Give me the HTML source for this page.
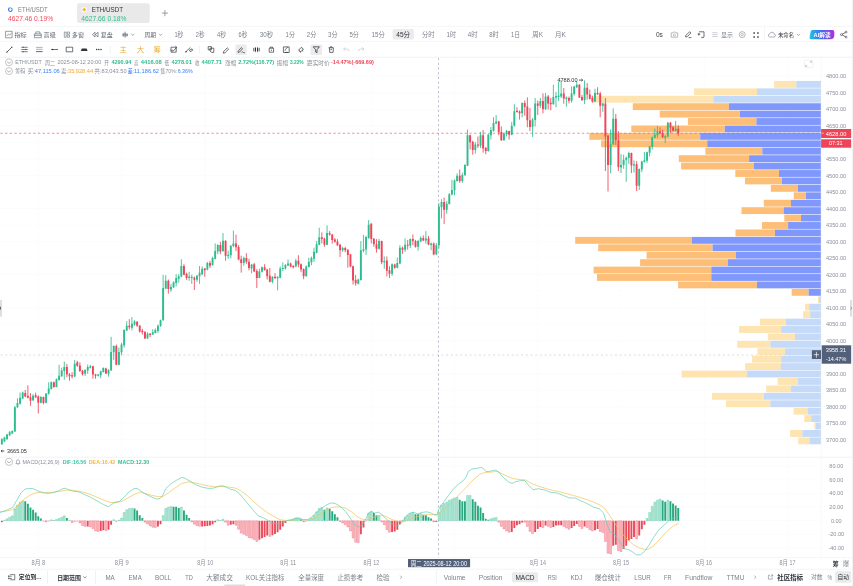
<!DOCTYPE html>
<html><head><meta charset="utf-8"><title>ETH/USDT</title>
<style>html,body{margin:0;padding:0;background:#fff;overflow:hidden}svg{display:block;filter:blur(0.4px)}text{font-family:"Liberation Sans","Noto Sans CJK SC",sans-serif;white-space:pre}</style></head>
<body>
<svg width="853" height="586" viewBox="0 0 853 586">
<defs><linearGradient id="aig" x1="0" x2="1" y1="0" y2="0"><stop offset="0" stop-color="#22c3e6"/><stop offset="0.45" stop-color="#3a6ff2"/><stop offset="1" stop-color="#b02fe0"/></linearGradient></defs>
<line x1="0" y1="439.73" x2="821.2" y2="439.73" stroke="#f6f8fb" stroke-width="0.5"/>
<line x1="0" y1="423.22" x2="821.2" y2="423.22" stroke="#f6f8fb" stroke-width="0.5"/>
<line x1="0" y1="406.7" x2="821.2" y2="406.7" stroke="#f6f8fb" stroke-width="0.5"/>
<line x1="0" y1="390.18" x2="821.2" y2="390.18" stroke="#f6f8fb" stroke-width="0.5"/>
<line x1="0" y1="373.67" x2="821.2" y2="373.67" stroke="#f6f8fb" stroke-width="0.5"/>
<line x1="0" y1="357.15" x2="821.2" y2="357.15" stroke="#f6f8fb" stroke-width="0.5"/>
<line x1="0" y1="340.64" x2="821.2" y2="340.64" stroke="#f6f8fb" stroke-width="0.5"/>
<line x1="0" y1="324.12" x2="821.2" y2="324.12" stroke="#f6f8fb" stroke-width="0.5"/>
<line x1="0" y1="307.61" x2="821.2" y2="307.61" stroke="#f6f8fb" stroke-width="0.5"/>
<line x1="0" y1="291.1" x2="821.2" y2="291.1" stroke="#f6f8fb" stroke-width="0.5"/>
<line x1="0" y1="274.58" x2="821.2" y2="274.58" stroke="#f6f8fb" stroke-width="0.5"/>
<line x1="0" y1="258.06" x2="821.2" y2="258.06" stroke="#f6f8fb" stroke-width="0.5"/>
<line x1="0" y1="241.55" x2="821.2" y2="241.55" stroke="#f6f8fb" stroke-width="0.5"/>
<line x1="0" y1="225.03" x2="821.2" y2="225.03" stroke="#f6f8fb" stroke-width="0.5"/>
<line x1="0" y1="208.52" x2="821.2" y2="208.52" stroke="#f6f8fb" stroke-width="0.5"/>
<line x1="0" y1="192" x2="821.2" y2="192" stroke="#f6f8fb" stroke-width="0.5"/>
<line x1="0" y1="175.49" x2="821.2" y2="175.49" stroke="#f6f8fb" stroke-width="0.5"/>
<line x1="0" y1="158.97" x2="821.2" y2="158.97" stroke="#f6f8fb" stroke-width="0.5"/>
<line x1="0" y1="142.46" x2="821.2" y2="142.46" stroke="#f6f8fb" stroke-width="0.5"/>
<line x1="0" y1="125.94" x2="821.2" y2="125.94" stroke="#f6f8fb" stroke-width="0.5"/>
<line x1="0" y1="109.43" x2="821.2" y2="109.43" stroke="#f6f8fb" stroke-width="0.5"/>
<line x1="0" y1="92.92" x2="821.2" y2="92.92" stroke="#f6f8fb" stroke-width="0.5"/>
<line x1="0" y1="76.4" x2="821.2" y2="76.4" stroke="#f6f8fb" stroke-width="0.5"/>
<line x1="0" y1="466.16" x2="821.2" y2="466.16" stroke="#f6f8fb" stroke-width="0.5"/>
<line x1="0" y1="479.77" x2="821.2" y2="479.77" stroke="#f6f8fb" stroke-width="0.5"/>
<line x1="0" y1="493.38" x2="821.2" y2="493.38" stroke="#f6f8fb" stroke-width="0.5"/>
<line x1="0" y1="506.99" x2="821.2" y2="506.99" stroke="#f6f8fb" stroke-width="0.5"/>
<line x1="0" y1="520.6" x2="821.2" y2="520.6" stroke="#f6f8fb" stroke-width="0.5"/>
<line x1="0" y1="534.21" x2="821.2" y2="534.21" stroke="#f6f8fb" stroke-width="0.5"/>
<line x1="0" y1="547.82" x2="821.2" y2="547.82" stroke="#f6f8fb" stroke-width="0.5"/>
<line x1="38.4" y1="57.2" x2="38.4" y2="557.9" stroke="#f6f8fb" stroke-width="0.5"/>
<line x1="121.6" y1="57.2" x2="121.6" y2="557.9" stroke="#f6f8fb" stroke-width="0.5"/>
<line x1="204.9" y1="57.2" x2="204.9" y2="557.9" stroke="#f6f8fb" stroke-width="0.5"/>
<line x1="288.1" y1="57.2" x2="288.1" y2="557.9" stroke="#f6f8fb" stroke-width="0.5"/>
<line x1="371.3" y1="57.2" x2="371.3" y2="557.9" stroke="#f6f8fb" stroke-width="0.5"/>
<line x1="454.6" y1="57.2" x2="454.6" y2="557.9" stroke="#f6f8fb" stroke-width="0.5"/>
<line x1="537.8" y1="57.2" x2="537.8" y2="557.9" stroke="#f6f8fb" stroke-width="0.5"/>
<line x1="621" y1="57.2" x2="621" y2="557.9" stroke="#f6f8fb" stroke-width="0.5"/>
<line x1="704.2" y1="57.2" x2="704.2" y2="557.9" stroke="#f6f8fb" stroke-width="0.5"/>
<line x1="787.5" y1="57.2" x2="787.5" y2="557.9" stroke="#f6f8fb" stroke-width="0.5"/>
<rect x="774.1" y="80.95" width="22.2" height="6.86" fill="#fde4b0"/>
<rect x="796.3" y="80.95" width="24.7" height="6.86" fill="#c4daf8"/>
<rect x="694" y="88.38" width="63" height="6.86" fill="#fde4b0"/>
<rect x="757" y="88.38" width="64" height="6.86" fill="#c4daf8"/>
<rect x="591.7" y="95.8" width="121.7" height="6.86" fill="#fde4b0"/>
<rect x="713.4" y="95.8" width="107.6" height="6.86" fill="#c4daf8"/>
<rect x="632.8" y="103.23" width="96.1" height="6.86" fill="#fdbf78"/>
<rect x="728.9" y="103.23" width="92.1" height="6.86" fill="#8098fc"/>
<rect x="659.7" y="110.66" width="80.3" height="6.86" fill="#fdbf78"/>
<rect x="740" y="110.66" width="81" height="6.86" fill="#8098fc"/>
<rect x="687.9" y="118.09" width="68.5" height="6.86" fill="#fdbf78"/>
<rect x="756.4" y="118.09" width="64.6" height="6.86" fill="#8098fc"/>
<rect x="631.3" y="125.51" width="93.5" height="6.86" fill="#fdbf78"/>
<rect x="724.8" y="125.51" width="96.2" height="6.86" fill="#8098fc"/>
<rect x="589.4" y="132.94" width="110.8" height="6.86" fill="#fdbf78"/>
<rect x="700.2" y="132.94" width="120.8" height="6.86" fill="#8098fc"/>
<rect x="601.1" y="140.37" width="106.1" height="6.86" fill="#fdbf78"/>
<rect x="707.2" y="140.37" width="113.8" height="6.86" fill="#8098fc"/>
<rect x="705.4" y="147.79" width="56.9" height="6.86" fill="#fdbf78"/>
<rect x="762.3" y="147.79" width="58.7" height="6.86" fill="#8098fc"/>
<rect x="678.8" y="155.22" width="70.3" height="6.86" fill="#fdbf78"/>
<rect x="749.1" y="155.22" width="71.9" height="6.86" fill="#8098fc"/>
<rect x="681.1" y="162.65" width="72.7" height="6.86" fill="#fdbf78"/>
<rect x="753.8" y="162.65" width="67.2" height="6.86" fill="#8098fc"/>
<rect x="735.3" y="170.07" width="43.7" height="6.86" fill="#fdbf78"/>
<rect x="779" y="170.07" width="42" height="6.86" fill="#8098fc"/>
<rect x="745" y="177.5" width="36.9" height="6.86" fill="#fdbf78"/>
<rect x="781.9" y="177.5" width="39.1" height="6.86" fill="#8098fc"/>
<rect x="770.8" y="184.93" width="27" height="6.86" fill="#fdbf78"/>
<rect x="797.8" y="184.93" width="23.2" height="6.86" fill="#8098fc"/>
<rect x="793.7" y="192.36" width="12.3" height="6.86" fill="#fdbf78"/>
<rect x="806" y="192.36" width="15" height="6.86" fill="#8098fc"/>
<rect x="763.8" y="199.78" width="27.2" height="6.86" fill="#fdbf78"/>
<rect x="791" y="199.78" width="30" height="6.86" fill="#8098fc"/>
<rect x="741.5" y="207.21" width="42.2" height="6.86" fill="#fdbf78"/>
<rect x="783.7" y="207.21" width="37.3" height="6.86" fill="#8098fc"/>
<rect x="784.3" y="214.64" width="16.7" height="6.86" fill="#fdbf78"/>
<rect x="801" y="214.64" width="20" height="6.86" fill="#8098fc"/>
<rect x="762" y="222.06" width="26.1" height="6.86" fill="#fdbf78"/>
<rect x="788.1" y="222.06" width="32.9" height="6.86" fill="#8098fc"/>
<rect x="735.5" y="229.49" width="39.4" height="6.86" fill="#fdbf78"/>
<rect x="774.9" y="229.49" width="46.1" height="6.86" fill="#8098fc"/>
<rect x="575.2" y="236.92" width="116.8" height="6.86" fill="#fdbf78"/>
<rect x="692" y="236.92" width="129" height="6.86" fill="#8098fc"/>
<rect x="598.2" y="244.34" width="114.3" height="6.86" fill="#fdbf78"/>
<rect x="712.5" y="244.34" width="108.5" height="6.86" fill="#8098fc"/>
<rect x="646.6" y="251.77" width="89.2" height="6.86" fill="#fdbf78"/>
<rect x="735.8" y="251.77" width="85.2" height="6.86" fill="#8098fc"/>
<rect x="640.1" y="259.2" width="87.7" height="6.86" fill="#fdbf78"/>
<rect x="727.8" y="259.2" width="93.2" height="6.86" fill="#8098fc"/>
<rect x="593.6" y="266.62" width="117.7" height="6.86" fill="#fdbf78"/>
<rect x="711.3" y="266.62" width="109.7" height="6.86" fill="#8098fc"/>
<rect x="597" y="274.05" width="114.3" height="6.86" fill="#fdbf78"/>
<rect x="711.3" y="274.05" width="109.7" height="6.86" fill="#8098fc"/>
<rect x="678.1" y="281.48" width="78.8" height="6.86" fill="#fdbf78"/>
<rect x="756.9" y="281.48" width="64.1" height="6.86" fill="#8098fc"/>
<rect x="791.7" y="288.91" width="16.9" height="6.86" fill="#fdbf78"/>
<rect x="808.6" y="288.91" width="12.4" height="6.86" fill="#8098fc"/>
<rect x="818.1" y="296.33" width="1" height="6.86" fill="#fde4b0"/>
<rect x="819.1" y="296.33" width="1.9" height="6.86" fill="#c4daf8"/>
<rect x="805.1" y="303.76" width="4.1" height="6.86" fill="#fde4b0"/>
<rect x="809.2" y="303.76" width="11.8" height="6.86" fill="#c4daf8"/>
<rect x="803.1" y="311.19" width="7.1" height="6.86" fill="#fde4b0"/>
<rect x="810.2" y="311.19" width="10.8" height="6.86" fill="#c4daf8"/>
<rect x="759.9" y="318.61" width="25.8" height="6.86" fill="#fde4b0"/>
<rect x="785.7" y="318.61" width="35.3" height="6.86" fill="#c4daf8"/>
<rect x="739" y="326.04" width="42.2" height="6.86" fill="#fde4b0"/>
<rect x="781.2" y="326.04" width="39.8" height="6.86" fill="#c4daf8"/>
<rect x="767.8" y="333.47" width="27.2" height="6.86" fill="#fde4b0"/>
<rect x="795" y="333.47" width="26" height="6.86" fill="#c4daf8"/>
<rect x="737.2" y="340.89" width="33.2" height="6.86" fill="#fde4b0"/>
<rect x="770.4" y="340.89" width="50.6" height="6.86" fill="#c4daf8"/>
<rect x="757.5" y="348.32" width="27.6" height="6.86" fill="#fde4b0"/>
<rect x="785.1" y="348.32" width="35.9" height="6.86" fill="#c4daf8"/>
<rect x="752" y="355.75" width="29.2" height="6.86" fill="#fde4b0"/>
<rect x="781.2" y="355.75" width="39.8" height="6.86" fill="#c4daf8"/>
<rect x="745.1" y="363.18" width="35.7" height="6.86" fill="#fde4b0"/>
<rect x="780.8" y="363.18" width="40.2" height="6.86" fill="#c4daf8"/>
<rect x="681.6" y="370.6" width="65.3" height="6.86" fill="#fde4b0"/>
<rect x="746.9" y="370.6" width="74.1" height="6.86" fill="#c4daf8"/>
<rect x="777.7" y="378.03" width="20.3" height="6.86" fill="#fde4b0"/>
<rect x="798" y="378.03" width="23" height="6.86" fill="#c4daf8"/>
<rect x="766.2" y="385.46" width="24.5" height="6.86" fill="#fde4b0"/>
<rect x="790.7" y="385.46" width="30.3" height="6.86" fill="#c4daf8"/>
<rect x="712" y="392.88" width="51.6" height="6.86" fill="#fde4b0"/>
<rect x="763.6" y="392.88" width="57.4" height="6.86" fill="#c4daf8"/>
<rect x="726" y="400.31" width="44.4" height="6.86" fill="#fde4b0"/>
<rect x="770.4" y="400.31" width="50.6" height="6.86" fill="#c4daf8"/>
<rect x="793.6" y="407.74" width="14" height="6.86" fill="#fde4b0"/>
<rect x="807.6" y="407.74" width="13.4" height="6.86" fill="#c4daf8"/>
<rect x="804.3" y="415.16" width="6.9" height="6.86" fill="#fde4b0"/>
<rect x="811.2" y="415.16" width="9.8" height="6.86" fill="#c4daf8"/>
<rect x="814.3" y="422.59" width="1.6" height="6.86" fill="#fde4b0"/>
<rect x="815.9" y="422.59" width="5.1" height="6.86" fill="#c4daf8"/>
<rect x="790.1" y="430.02" width="12.2" height="6.86" fill="#fde4b0"/>
<rect x="802.3" y="430.02" width="18.7" height="6.86" fill="#c4daf8"/>
<rect x="798.2" y="437.45" width="11.2" height="6.86" fill="#fde4b0"/>
<rect x="809.4" y="437.45" width="11.6" height="6.86" fill="#c4daf8"/>
<line x1="0.37" y1="133.25" x2="821.2" y2="133.25" stroke="#ee5e70" stroke-width="0.7" stroke-dasharray="2.35 2.34"/>
<line x1="0.55" y1="355" x2="821.2" y2="355" stroke="#d9dbe4" stroke-width="1" stroke-dasharray="2 2.69"/>
<line x1="438.5" y1="58" x2="438.5" y2="557.9" stroke="#9499b0" stroke-width="0.6" stroke-dasharray="2.25 2.46"/>
<path d="M1.85 438.06V444.82M4.45 436.83V442.21M7.05 433.76V439.59M9.65 430.99V436.06M12.26 430.37V434.06M14.86 406.1V431.91M17.46 398.41V407.94M20.06 392.58V404.56M22.66 391.5V399.18M33.07 394.11V401.18M40.87 396.11V403.33M46.08 393.04V403.33M48.68 382.28V394.57M51.28 381.51V389.5M56.48 378.44V387.35M59.08 364.92V380.74M61.68 367.68V376.9M64.29 361.54V379.67M74.69 360V377.21M85.1 369.22V376.13M87.7 364.61V373.83M90.3 364.92V368.45M98.11 373.83V376.59M100.71 370.76V378.13M103.31 367.38V372.6M108.51 369.22V376.59M111.11 336.85V370.96M113.71 345.3V359.9M118.92 347.61V365.28M121.52 342.69V355.29M124.12 329.17V347.61M126.72 321.18V331.01M131.93 317.19V330.4M134.53 320.26V325.79M147.53 332.24V338.85M152.74 329.17V335.01M155.34 328.4V333.47M157.94 324.56V333.01M160.54 319.64V326.87M163.14 274.95V320.74M165.74 275.26V289.09M170.95 283.86V291.85M173.55 281.4V288.01M176.15 274.18V286.48M178.75 274.18V282.63M181.35 259.28V277.26M189.16 271.88V280.79M191.76 274.64V283.86M196.96 274.95V281.87M199.56 266.04V283.86M202.17 266.48V275.23M207.37 261.87V270.32M212.57 256.79V265.71M215.17 243.43V259.56M217.77 244.19V254.18M222.98 233.13V251.88M228.18 250.65V258.79M230.78 244.96V258.33M233.38 230.67V247.27M243.79 256.49V265.71M251.59 263.86V273.39M259.4 268.78V278.31M262 266.48V272.62M272.41 276.16V283.38M277.61 276.46V290.29M280.21 266.48V278.31M282.81 262.33V271.08M285.41 264.17V269.55M288.02 259.56V266.01M295.82 258.79V267.24M306.23 265.4V276.46M308.83 257.72V267.55M311.43 256.48V265.23M314.03 247.72V261.85M316.63 241.11V253.4M319.23 227.74V245.26M327.04 225.28V245.26M342.65 246.79V251.87M358.26 278.76V284.59M360.86 241.11V280.6M363.46 234.96V252.33M366.06 235.73V254.94M368.66 220.06V238.8M379.07 238.8V249.56M384.27 256.48V268.77M392.08 263.39V275.99M397.28 257.55V268.31M399.88 245.26V264.16M405.08 238.5V251.87M410.29 238.5V248.02M418.09 239.91V250.67M420.69 236.38V242.22M425.89 231.16V243.76M431.1 242.53V250.21M436.3 242.99V255.28M438.9 203.04V248.67M441.5 199.19V218.4M446.71 201.04V213.79M449.31 193.05V204.57M451.91 179.99V195.35M454.51 179.53V195.35M457.11 173.37V181.82M462.32 172.6V182.89M464.92 164.15V175.67M467.52 129.57V165.99M475.32 141.87V153.7M480.53 131.88V148.01M488.33 133.72V151.55M490.93 126.96V139.56M493.53 117.28V131.57M496.14 114.98V124.19M503.94 132.65V140.79M506.54 130.03V136.49M511.74 121.89V135.26M514.35 104.22V126.5M522.15 102.38V117.28M532.56 118.01V136.91M535.16 98.04V126.46M540.36 98.04V108.02M545.56 92.97V109.87M553.37 84.67V104.64M555.97 91.89V107.26M558.57 81.59V101.11M561.17 80.67V98.04M566.38 96.5V106.79M571.58 86.51V102.65M574.18 85.74V95.73M576.78 81.59V88.05M584.59 80.37V104.18M594.99 88.82V102.19M602.8 102.65V111.87M610.6 129.6V173.39M613.2 108.39V144.96M621.01 154.18V173.08M623.61 154.64V168.78M626.21 156.49V181.84M628.81 151.57V163.86M634.01 160.33V172.62M639.22 168.47V189.98M641.82 160.79V172.16M644.42 151.88V162.63M647.02 151.57V162.94M649.62 145.73V156.49M652.23 136.51V149.57M654.83 128.52V138.36M657.43 126.06V137.74M665.23 135.28V142.97M667.83 121.91V137.28M675.64 120.84V131.59" fill="none" stroke="#2ebd8f" stroke-width="0.85"/>
<path d="M25.26 389.96V397.19M27.87 385.35V398.41M30.47 393.04V405.79M35.67 392.58V398.11M38.27 395.34V413.47M43.47 396.57V404.25M53.88 381.51V387.66M66.89 363.84V377.21M69.49 373.06V380.74M72.09 372.29V378.44M77.29 360.77V366.91M79.89 362.3V371.99M82.5 369.99V375.67M92.9 365.84V378.75M95.5 373.83V378.75M105.91 367.68V374.14M116.32 344.54V365.28M129.32 319.18V329.48M137.13 321.18V326.87M139.73 324.87V332.55M142.33 328.86V334.55M144.93 331.01V338.85M150.14 333.01V337.16M168.35 279.56V293.7M183.96 264.19V275.26M186.56 272.65V279.87M194.36 276.49V290.01M204.77 268.01V276.77M209.97 260.79V268.01M220.38 241.89V254.18M225.58 240.35V260.79M235.99 234.67V251.11M238.59 244.96V260.33M241.19 255.72V272.62M246.39 253.11V263.86M248.99 258.79V270.32M254.2 262.94V272.16M256.8 269.09V287.99M264.6 264.17V270.62M267.2 268.78V279.54M269.8 268.01V282.3M275.01 273.08V278.77M290.62 262.63V267.24M293.22 264.94V268.47M298.42 255.26V267.24M301.02 263.4V272.16M303.62 268.47V279.23M321.83 232.35V243.41M324.44 237.58V246.79M329.64 231.12V235.73M332.24 233.89V243.72M334.84 238.04V242.65M337.44 239.11V246.18M340.05 243.72V256.94M345.25 246.79V252.33M347.85 249.25V267.69M350.45 253.86V267.23M353.05 265.69V284.59M355.65 274.91V285.67M371.26 223.13V243.41M373.86 238.04V246.79M376.47 239.11V252.63M381.67 240.65V264.16M386.87 256.48V276.45M389.47 266.16V277.99M394.68 263.7V268.77M402.48 246.49V253.86M407.68 240.03V249.56M412.89 234.5V245.26M415.49 239.91V247.6M423.29 235.3V240.99M428.5 236.07V245.29M433.7 242.53V255.28M444.11 197.66V224.09M459.71 169.52V182.89M470.12 134.64V149.55M472.72 140.79V154.62M477.92 136.49V148.01M483.13 130.03V152.62M485.73 146.94V154.16M498.74 120.81V135.26M501.34 126.5V140.79M509.14 130.65V139.56M516.95 107.29V112.67M519.55 110.37V119.59M524.75 100.38V115.74M527.35 97.3V127.27M529.95 108.06V131.11M537.76 100.65V114.94M542.96 93.43V113.4M548.17 94.96V109.56M550.77 98.04V110.33M563.77 88.05V103.72M568.98 96.5V103.41M579.38 84.21V98.04M581.98 94.96V101.11M587.19 83.13V99.57M589.79 89.59V99.57M592.39 95.73V102.65M597.59 87.28V94.96M600.2 91.89V117.24M605.4 98.1V171.08M608 134.98V191.52M615.8 113.92V144.96M618.41 131.13V171.08M631.41 152.65V173.08M636.62 161.1V191.06M660.03 127.29V134.21M662.63 129.6V138.05M670.44 121.91V133.13M673.04 126.06V131.59M678.24 125.45V135.74" fill="none" stroke="#ee4458" stroke-width="0.85"/>
<path d="M0.9 439.13h1.9v5.07h-1.9zM3.5 437.6h1.9v3.84h-1.9zM6.1 434.52h1.9v4.61h-1.9zM8.7 432.22h1.9v3.07h-1.9zM11.31 430.99h1.9v2.46h-1.9zM13.91 407.17h1.9v24.28h-1.9zM16.51 403.02h1.9v4.3h-1.9zM19.11 397.65h1.9v6.15h-1.9zM21.71 392.58h1.9v5.84h-1.9zM32.12 395.65h1.9v4.61h-1.9zM39.92 396.88h1.9v5.84h-1.9zM45.13 393.5h1.9v9.22h-1.9zM47.73 388.43h1.9v5.38h-1.9zM50.33 382.28h1.9v6.61h-1.9zM55.53 379.21h1.9v7.68h-1.9zM58.13 375.67h1.9v4.3h-1.9zM60.73 370.45h1.9v5.69h-1.9zM63.34 366.91h1.9v4.15h-1.9zM73.74 363.84h1.9v12.75h-1.9zM84.15 369.99h1.9v3.84h-1.9zM86.75 366.91h1.9v3.53h-1.9zM89.35 366.15h1.9v1.54h-1.9zM97.16 374.6h1.9v1.08h-1.9zM99.76 371.52h1.9v3.84h-1.9zM102.36 367.99h1.9v4h-1.9zM107.56 369.99h1.9v3.84h-1.9zM110.16 351.91h1.9v18.44h-1.9zM112.76 346.07h1.9v6.15h-1.9zM117.97 351.91h1.9v12.91h-1.9zM120.57 344.54h1.9v7.68h-1.9zM123.17 329.94h1.9v15.37h-1.9zM125.77 325.79h1.9v4.61h-1.9zM130.98 323.79h1.9v3.84h-1.9zM133.58 321.49h1.9v3.07h-1.9zM146.58 333.78h1.9v4.61h-1.9zM151.79 332.24h1.9v2.3h-1.9zM154.39 329.94h1.9v3.07h-1.9zM156.99 325.79h1.9v5.22h-1.9zM159.59 320.26h1.9v5.84h-1.9zM162.19 288.01h1.9v32.27h-1.9zM164.79 280.79h1.9v7.68h-1.9zM170 286.94h1.9v2.61h-1.9zM172.6 282.33h1.9v4.92h-1.9zM175.2 278.02h1.9v4.92h-1.9zM177.8 276.18h1.9v2.61h-1.9zM180.4 266.04h1.9v10.45h-1.9zM188.21 276.49h1.9v1.54h-1.9zM190.81 276.79h1.9v1.23h-1.9zM196.01 275.72h1.9v4.15h-1.9zM198.61 272.65h1.9v3.53h-1.9zM201.22 268.78h1.9v5.38h-1.9zM206.42 262.94h1.9v6.61h-1.9zM211.62 258.02h1.9v6.91h-1.9zM214.22 251.11h1.9v7.68h-1.9zM216.82 244.96h1.9v6.61h-1.9zM222.03 240.81h1.9v10.3h-1.9zM227.23 254.64h1.9v1.54h-1.9zM229.83 245.73h1.9v9.53h-1.9zM232.43 243.43h1.9v2.61h-1.9zM242.84 258.02h1.9v4.92h-1.9zM250.64 264.48h1.9v4h-1.9zM258.45 271.55h1.9v6.45h-1.9zM261.05 267.24h1.9v4.61h-1.9zM271.46 276.77h1.9v5.07h-1.9zM276.66 276.77h1.9v1.54h-1.9zM279.26 268.47h1.9v9.22h-1.9zM281.86 268.01h1.9v1.08h-1.9zM284.46 264.94h1.9v3.53h-1.9zM287.07 263.4h1.9v2h-1.9zM294.87 260.79h1.9v5.69h-1.9zM305.28 266.48h1.9v9.68h-1.9zM307.88 261.87h1.9v5.07h-1.9zM310.48 258.01h1.9v4.15h-1.9zM313.08 251.87h1.9v6.91h-1.9zM315.68 244.18h1.9v8.45h-1.9zM318.28 237.27h1.9v7.38h-1.9zM326.09 232.97h1.9v11.68h-1.9zM341.7 248.02h1.9v2.3h-1.9zM357.31 279.52h1.9v4.15h-1.9zM359.91 250.33h1.9v29.66h-1.9zM362.51 249.25h1.9v1.54h-1.9zM365.11 236.96h1.9v12.6h-1.9zM367.71 224.67h1.9v13.37h-1.9zM378.12 241.11h1.9v7.68h-1.9zM383.32 261.08h1.9v1.08h-1.9zM391.13 264.16h1.9v9.68h-1.9zM396.33 263.08h1.9v4.61h-1.9zM398.93 247.72h1.9v15.67h-1.9zM404.13 244.64h1.9v5.22h-1.9zM409.34 239.11h1.9v6.61h-1.9zM417.14 240.99h1.9v5.84h-1.9zM419.74 237.92h1.9v3.53h-1.9zM424.94 238.38h1.9v2h-1.9zM430.15 243.45h1.9v1.54h-1.9zM435.35 245.29h1.9v8.91h-1.9zM437.95 206.57h1.9v38.72h-1.9zM440.55 201.96h1.9v4.92h-1.9zM445.76 203.8h1.9v5.84h-1.9zM448.36 194.28h1.9v9.83h-1.9zM450.96 189.98h1.9v4.61h-1.9zM453.56 180.45h1.9v9.83h-1.9zM456.16 175.67h1.9v5.38h-1.9zM461.37 174.9h1.9v6.15h-1.9zM463.97 164.91h1.9v10.3h-1.9zM466.57 135.26h1.9v30.42h-1.9zM474.37 144.48h1.9v5.53h-1.9zM479.58 135.26h1.9v10.45h-1.9zM487.38 134.64h1.9v16.44h-1.9zM489.98 130.03h1.9v5.22h-1.9zM492.58 122.97h1.9v7.68h-1.9zM495.19 121.43h1.9v2h-1.9zM502.99 133.41h1.9v6.91h-1.9zM505.59 131.11h1.9v3.07h-1.9zM510.79 125.73h1.9v8.91h-1.9zM513.4 111.13h1.9v14.6h-1.9zM521.2 102.99h1.9v10.14h-1.9zM531.61 119.55h1.9v7.22h-1.9zM534.21 103.41h1.9v16.59h-1.9zM539.41 101.11h1.9v4.61h-1.9zM544.61 96.5h1.9v12.75h-1.9zM552.42 96.96h1.9v7.22h-1.9zM555.02 96.04h1.9v1.54h-1.9zM557.62 95.73h1.9v1.23h-1.9zM560.22 93.43h1.9v3.07h-1.9zM565.43 97.58h1.9v1.54h-1.9zM570.63 93.43h1.9v7.22h-1.9zM573.23 86.51h1.9v7.38h-1.9zM575.83 84.67h1.9v2.61h-1.9zM583.64 87.74h1.9v12.29h-1.9zM594.04 92.97h1.9v8.6h-1.9zM601.85 103.41h1.9v2.3h-1.9zM609.65 144.19h1.9v20.74h-1.9zM612.25 118.84h1.9v25.35h-1.9zM620.06 164.94h1.9v2.61h-1.9zM622.66 159.87h1.9v5.07h-1.9zM625.26 157.72h1.9v2.15h-1.9zM627.86 153.11h1.9v4.92h-1.9zM633.06 164.17h1.9v1.23h-1.9zM638.27 169.09h1.9v16.59h-1.9zM640.87 161.4h1.9v8.14h-1.9zM643.47 160.33h1.9v1.54h-1.9zM646.07 152.19h1.9v8.6h-1.9zM648.67 146.5h1.9v6.15h-1.9zM651.27 137.28h1.9v9.68h-1.9zM653.88 134.67h1.9v3.07h-1.9zM656.48 131.59h1.9v3.69h-1.9zM664.28 136.2h1.9v1.54h-1.9zM666.88 122.68h1.9v13.83h-1.9zM674.69 128.83h1.9v1.84h-1.9z" fill="#2ebd8f"/>
<path d="M24.31 393.04h1.9v3.53h-1.9zM26.92 395.65h1.9v2h-1.9zM29.52 397.19h1.9v3.53h-1.9zM34.72 395.34h1.9v1.84h-1.9zM37.32 396.57h1.9v6.15h-1.9zM42.52 396.88h1.9v6.15h-1.9zM52.93 382.28h1.9v4.61h-1.9zM65.94 366.91h1.9v7.68h-1.9zM68.54 374.6h1.9v1.54h-1.9zM71.14 375.37h1.9v1.23h-1.9zM76.34 362.3h1.9v3.53h-1.9zM78.94 365.38h1.9v5.69h-1.9zM81.55 370.76h1.9v3.38h-1.9zM91.95 366.15h1.9v8.45h-1.9zM94.55 374.6h1.9v1.08h-1.9zM104.96 368.45h1.9v5.07h-1.9zM115.37 346.07h1.9v18.75h-1.9zM128.37 325.79h1.9v1.54h-1.9zM136.18 321.79h1.9v4h-1.9zM138.78 325.79h1.9v5.69h-1.9zM141.38 330.71h1.9v1.54h-1.9zM143.98 331.94h1.9v6.45h-1.9zM149.19 333.78h1.9v1.23h-1.9zM167.4 280.79h1.9v8.3h-1.9zM183.01 266.04h1.9v8.6h-1.9zM185.61 273.72h1.9v4.3h-1.9zM193.41 277.72h1.9v2.15h-1.9zM203.82 268.47h1.9v1.84h-1.9zM209.02 262.94h1.9v2.77h-1.9zM219.43 244.96h1.9v6.61h-1.9zM224.63 240.81h1.9v14.9h-1.9zM235.04 243.43h1.9v3.84h-1.9zM237.64 246.96h1.9v12.6h-1.9zM240.24 259.25h1.9v3.69h-1.9zM245.44 258.02h1.9v3.84h-1.9zM248.04 261.87h1.9v6.15h-1.9zM253.25 264.17h1.9v7.38h-1.9zM255.85 271.08h1.9v6.91h-1.9zM263.65 267.24h1.9v2.77h-1.9zM266.25 269.55h1.9v6.61h-1.9zM268.85 275.69h1.9v6.15h-1.9zM274.06 276.77h1.9v1.54h-1.9zM289.67 263.4h1.9v3.07h-1.9zM292.27 266.01h1.9v1.23h-1.9zM297.47 260.79h1.9v3.69h-1.9zM300.07 264.17h1.9v5.38h-1.9zM302.67 269.09h1.9v7.07h-1.9zM320.88 237.27h1.9v1.84h-1.9zM323.49 238.8h1.9v5.84h-1.9zM328.69 232.97h1.9v1.54h-1.9zM331.29 234.5h1.9v5.53h-1.9zM333.89 239.57h1.9v2.3h-1.9zM336.49 241.57h1.9v3.69h-1.9zM339.1 244.64h1.9v5.69h-1.9zM344.3 248.02h1.9v2.3h-1.9zM346.9 249.87h1.9v5.07h-1.9zM349.5 254.48h1.9v11.99h-1.9zM352.1 266.16h1.9v14.44h-1.9zM354.7 279.98h1.9v3.38h-1.9zM370.31 223.75h1.9v15.37h-1.9zM372.91 238.8h1.9v5.38h-1.9zM375.52 244.18h1.9v4.61h-1.9zM380.72 241.11h1.9v21.05h-1.9zM385.92 260.62h1.9v10.14h-1.9zM388.52 270.3h1.9v3.53h-1.9zM393.73 264.62h1.9v3.07h-1.9zM401.53 247.72h1.9v2.15h-1.9zM406.73 244.64h1.9v1.08h-1.9zM411.94 239.11h1.9v2h-1.9zM414.54 240.99h1.9v5.84h-1.9zM422.34 237.92h1.9v2.46h-1.9zM427.55 238.38h1.9v6.15h-1.9zM432.75 243.45h1.9v11.06h-1.9zM443.16 201.96h1.9v7.68h-1.9zM458.76 175.67h1.9v5.38h-1.9zM469.17 135.26h1.9v7.07h-1.9zM471.77 141.87h1.9v8.14h-1.9zM476.97 144.48h1.9v1.23h-1.9zM482.18 135.26h1.9v13.21h-1.9zM484.78 148.01h1.9v3.07h-1.9zM497.79 121.43h1.9v10.76h-1.9zM500.39 131.88h1.9v8.45h-1.9zM508.19 131.11h1.9v3.53h-1.9zM516 110.67h1.9v1.23h-1.9zM518.6 111.59h1.9v1.54h-1.9zM523.8 102.99h1.9v4h-1.9zM526.4 106.52h1.9v13.83h-1.9zM529 120.35h1.9v6.61h-1.9zM536.81 103.41h1.9v2.3h-1.9zM542.01 101.11h1.9v8.14h-1.9zM547.22 96.5h1.9v6.91h-1.9zM549.82 102.65h1.9v1.54h-1.9zM562.82 93.43h1.9v5.07h-1.9zM568.03 98.04h1.9v2.61h-1.9zM578.43 84.67h1.9v12.91h-1.9zM581.03 96.96h1.9v3.07h-1.9zM586.24 87.74h1.9v6.76h-1.9zM588.84 94.5h1.9v4.3h-1.9zM591.44 98.04h1.9v3.53h-1.9zM596.64 92.97h1.9v1.23h-1.9zM599.25 93.43h1.9v12.29h-1.9zM604.45 103.48h1.9v33.04h-1.9zM607.05 135.74h1.9v29.19h-1.9zM614.85 118.84h1.9v21.51h-1.9zM617.46 140.35h1.9v26.89h-1.9zM630.46 153.11h1.9v12.29h-1.9zM635.67 164.17h1.9v21.51h-1.9zM659.08 131.59h1.9v1.54h-1.9zM661.68 133.13h1.9v4.15h-1.9zM669.49 122.68h1.9v4.92h-1.9zM672.09 127.29h1.9v3.38h-1.9zM677.29 128.83h1.9v4.61h-1.9z" fill="#ee4458"/>
<path d="M3.5 520.15h1.9v0.6h-1.9zM6.1 518.87h1.9v1.88h-1.9zM8.7 517.19h1.9v3.56h-1.9zM11.31 515.86h1.9v4.89h-1.9zM13.91 508.83h1.9v11.92h-1.9zM16.51 505.15h1.9v15.6h-1.9zM19.11 502.14h1.9v18.61h-1.9zM21.71 500.8h1.9v19.95h-1.9zM50.33 519.87h1.9v0.88h-1.9zM55.53 519.53h1.9v1.22h-1.9zM58.13 518.53h1.9v2.22h-1.9zM60.73 517.19h1.9v3.56h-1.9zM63.34 515.86h1.9v4.89h-1.9zM112.76 519.7h1.9v1.05h-1.9zM117.97 520.15h1.9v0.6h-1.9zM120.57 518.03h1.9v2.72h-1.9zM123.17 512.51h1.9v8.24h-1.9zM125.77 509.67h1.9v11.08h-1.9zM128.37 508.5h1.9v12.25h-1.9zM130.98 508.16h1.9v12.59h-1.9zM162.19 515.52h1.9v5.23h-1.9zM164.79 508.5h1.9v12.25h-1.9zM167.4 507.16h1.9v13.59h-1.9zM170 506.49h1.9v14.26h-1.9zM180.4 507.16h1.9v13.59h-1.9zM216.82 519.7h1.9v1.05h-1.9zM222.03 519.2h1.9v1.55h-1.9zM289.67 520.15h1.9v0.6h-1.9zM292.27 519.2h1.9v1.55h-1.9zM294.87 518.03h1.9v2.72h-1.9zM297.47 518.03h1.9v2.72h-1.9zM307.88 520.15h1.9v0.6h-1.9zM310.48 518.03h1.9v2.72h-1.9zM313.08 515.52h1.9v5.23h-1.9zM315.68 511.84h1.9v8.91h-1.9zM318.28 508.5h1.9v12.25h-1.9zM320.88 507.49h1.9v13.26h-1.9zM326.09 507.99h1.9v12.76h-1.9zM367.71 513.01h1.9v7.74h-1.9zM370.31 511.84h1.9v8.91h-1.9zM378.12 515.86h1.9v4.89h-1.9zM401.53 520.15h1.9v0.6h-1.9zM404.13 517.19h1.9v3.56h-1.9zM406.73 515.19h1.9v5.56h-1.9zM409.34 513.51h1.9v7.24h-1.9zM411.94 512.51h1.9v8.24h-1.9zM419.74 513.51h1.9v7.24h-1.9zM437.95 512.18h1.9v8.57h-1.9zM440.55 505.15h1.9v15.6h-1.9zM443.16 503.48h1.9v17.27h-1.9zM445.76 502.14h1.9v18.61h-1.9zM448.36 500.13h1.9v20.62h-1.9zM450.96 499.13h1.9v21.62h-1.9zM453.56 497.96h1.9v22.79h-1.9zM456.16 497.46h1.9v23.29h-1.9zM466.57 495.45h1.9v25.3h-1.9zM469.17 495.45h1.9v25.3h-1.9zM489.98 518.87h1.9v1.88h-1.9zM492.58 518.03h1.9v2.72h-1.9zM495.19 517.53h1.9v3.22h-1.9zM646.07 518.53h1.9v2.22h-1.9zM648.67 512.51h1.9v8.24h-1.9zM651.27 506.32h1.9v14.43h-1.9zM653.88 502.14h1.9v18.61h-1.9zM656.48 500.13h1.9v20.62h-1.9zM659.08 499.13h1.9v21.62h-1.9zM666.88 500.13h1.9v20.62h-1.9z" fill="#b7e6d6" stroke="#2ebd8f" stroke-width="0.31"/>
<path d="M24.31 501.3h1.9v19.45h-1.9zM26.92 503.81h1.9v16.94h-1.9zM29.52 507.49h1.9v13.26h-1.9zM32.12 509.67h1.9v11.08h-1.9zM34.72 512.51h1.9v8.24h-1.9zM37.32 516.36h1.9v4.39h-1.9zM39.92 518.53h1.9v2.22h-1.9zM52.93 520.15h1.9v0.6h-1.9zM65.94 518.03h1.9v2.72h-1.9zM68.54 520.15h1.9v0.6h-1.9zM133.58 508.5h1.9v12.25h-1.9zM136.18 510.5h1.9v10.25h-1.9zM138.78 515.19h1.9v5.56h-1.9zM141.38 518.03h1.9v2.72h-1.9zM172.6 506.82h1.9v13.93h-1.9zM175.2 506.82h1.9v13.93h-1.9zM177.8 507.99h1.9v12.76h-1.9zM183.01 510.5h1.9v10.25h-1.9zM185.61 514.68h1.9v6.07h-1.9zM188.21 518.03h1.9v2.72h-1.9zM219.43 520.15h1.9v0.6h-1.9zM287.07 520.15h1.9v0.6h-1.9zM300.07 519.2h1.9v1.55h-1.9zM323.49 509.67h1.9v11.08h-1.9zM328.69 508.83h1.9v11.92h-1.9zM331.29 511.34h1.9v9.41h-1.9zM333.89 514.18h1.9v6.57h-1.9zM336.49 517.19h1.9v3.56h-1.9zM372.91 513.01h1.9v7.74h-1.9zM375.52 515.19h1.9v5.56h-1.9zM414.54 514.18h1.9v6.57h-1.9zM417.14 514.18h1.9v6.57h-1.9zM422.34 514.68h1.9v6.07h-1.9zM424.94 515.19h1.9v5.56h-1.9zM427.55 517.19h1.9v3.56h-1.9zM430.15 518.53h1.9v2.22h-1.9zM458.76 499.63h1.9v21.12h-1.9zM461.37 501.3h1.9v19.45h-1.9zM463.97 501.3h1.9v19.45h-1.9zM471.77 499.13h1.9v21.62h-1.9zM474.37 501.81h1.9v18.94h-1.9zM476.97 505.82h1.9v14.93h-1.9zM479.58 507.49h1.9v13.26h-1.9zM482.18 513.01h1.9v7.74h-1.9zM484.78 518.87h1.9v1.88h-1.9zM487.38 519.7h1.9v1.05h-1.9zM661.68 500.47h1.9v20.28h-1.9zM664.28 501.81h1.9v18.94h-1.9zM669.49 501.3h1.9v19.45h-1.9zM672.09 503.48h1.9v17.27h-1.9zM674.69 505.49h1.9v15.26h-1.9zM677.29 507.99h1.9v12.76h-1.9z" fill="#27a87e"/>
<path d="M45.13 520.75h1.9v1.13h-1.9zM71.14 520.75h1.9v1.8h-1.9zM78.94 520.75h1.9v2.3h-1.9zM81.55 520.75h1.9v4.81h-1.9zM84.15 520.75h1.9v5.64h-1.9zM89.35 520.75h1.9v6.14h-1.9zM91.95 520.75h1.9v7.82h-1.9zM94.55 520.75h1.9v10.16h-1.9zM97.16 520.75h1.9v10.66h-1.9zM104.96 520.75h1.9v9.82h-1.9zM143.98 520.75h1.9v1.46h-1.9zM146.58 520.75h1.9v3.13h-1.9zM149.19 520.75h1.9v5.14h-1.9zM151.79 520.75h1.9v6.48h-1.9zM154.39 520.75h1.9v6.81h-1.9zM190.81 520.75h1.9v1.13h-1.9zM193.41 520.75h1.9v3.47h-1.9zM196.01 520.75h1.9v4.81h-1.9zM198.61 520.75h1.9v5.47h-1.9zM224.63 520.75h1.9v1.46h-1.9zM227.23 520.75h1.9v4.47h-1.9zM235.04 520.75h1.9v4.47h-1.9zM237.64 520.75h1.9v8.49h-1.9zM240.24 520.75h1.9v12.33h-1.9zM242.84 520.75h1.9v13.5h-1.9zM245.44 520.75h1.9v14.84h-1.9zM248.04 520.75h1.9v16.85h-1.9zM250.64 520.75h1.9v17.52h-1.9zM253.25 520.75h1.9v18.85h-1.9zM255.85 520.75h1.9v20.69h-1.9zM268.85 520.75h1.9v15.68h-1.9zM302.67 520.75h1.9v1.13h-1.9zM339.1 520.75h1.9v0.79h-1.9zM341.7 520.75h1.9v2.3h-1.9zM344.3 520.75h1.9v3.97h-1.9zM346.9 520.75h1.9v6.14h-1.9zM349.5 520.75h1.9v10.16h-1.9zM352.1 520.75h1.9v17.35h-1.9zM354.7 520.75h1.9v21.53h-1.9zM357.31 520.75h1.9v21.87h-1.9zM380.72 520.75h1.9v1.13h-1.9zM383.32 520.75h1.9v3.97h-1.9zM385.92 520.75h1.9v8.99h-1.9zM388.52 520.75h1.9v11.5h-1.9zM432.75 520.75h1.9v1.13h-1.9zM497.79 520.75h1.9v1.46h-1.9zM500.39 520.75h1.9v5.64h-1.9zM502.99 520.75h1.9v8.15h-1.9zM505.59 520.75h1.9v10.16h-1.9zM508.19 520.75h1.9v11.5h-1.9zM523.8 520.75h1.9v1.46h-1.9zM526.4 520.75h1.9v5.64h-1.9zM529 520.75h1.9v10.66h-1.9zM531.61 520.75h1.9v12.83h-1.9zM542.01 520.75h1.9v6.81h-1.9zM547.22 520.75h1.9v5.64h-1.9zM549.82 520.75h1.9v6.81h-1.9zM562.82 520.75h1.9v5.64h-1.9zM565.43 520.75h1.9v7.31h-1.9zM568.03 520.75h1.9v8.49h-1.9zM578.43 520.75h1.9v5.64h-1.9zM581.03 520.75h1.9v7.82h-1.9zM586.24 520.75h1.9v6.81h-1.9zM588.84 520.75h1.9v8.99h-1.9zM591.44 520.75h1.9v10.16h-1.9zM599.25 520.75h1.9v10.66h-1.9zM601.85 520.75h1.9v11.83h-1.9zM604.45 520.75h1.9v20.69h-1.9zM607.05 520.75h1.9v32.4h-1.9zM609.65 520.75h1.9v33.24h-1.9zM617.46 520.75h1.9v29.89h-1.9zM620.06 520.75h1.9v30.73h-1.9zM635.67 520.75h1.9v18.19h-1.9z" fill="#f9c0c6" stroke="#ee4458" stroke-width="0.31"/>
<path d="M0.9 520.75h1.9v1.46h-1.9zM42.52 520.75h1.9v0.62h-1.9zM47.73 520.75h1.9v0.6h-1.9zM73.74 520.75h1.9v0.79h-1.9zM76.34 520.75h1.9v0.62h-1.9zM86.75 520.75h1.9v5.64h-1.9zM99.76 520.75h1.9v10.16h-1.9zM102.36 520.75h1.9v9.49h-1.9zM107.56 520.75h1.9v8.99h-1.9zM110.16 520.75h1.9v3.97h-1.9zM115.37 520.75h1.9v0.79h-1.9zM156.99 520.75h1.9v5.64h-1.9zM159.59 520.75h1.9v3.47h-1.9zM201.22 520.75h1.9v5.81h-1.9zM203.82 520.75h1.9v5.47h-1.9zM206.42 520.75h1.9v5.14h-1.9zM209.02 520.75h1.9v4.81h-1.9zM211.62 520.75h1.9v3.47h-1.9zM214.22 520.75h1.9v1.46h-1.9zM229.83 520.75h1.9v3.97h-1.9zM232.43 520.75h1.9v3.47h-1.9zM258.45 520.75h1.9v19.02h-1.9zM261.05 520.75h1.9v17.52h-1.9zM263.65 520.75h1.9v16.18h-1.9zM266.25 520.75h1.9v14.84h-1.9zM271.46 520.75h1.9v14.51h-1.9zM274.06 520.75h1.9v13.17h-1.9zM276.66 520.75h1.9v11.5h-1.9zM279.26 520.75h1.9v8.99h-1.9zM281.86 520.75h1.9v5.64h-1.9zM284.46 520.75h1.9v2.3h-1.9zM305.28 520.75h1.9v0.62h-1.9zM359.91 520.75h1.9v13.5h-1.9zM362.51 520.75h1.9v6.81h-1.9zM365.11 520.75h1.9v0.6h-1.9zM391.13 520.75h1.9v11.16h-1.9zM393.73 520.75h1.9v10.66h-1.9zM396.33 520.75h1.9v8.99h-1.9zM398.93 520.75h1.9v3.47h-1.9zM435.35 520.75h1.9v1.13h-1.9zM510.79 520.75h1.9v11.16h-1.9zM513.4 520.75h1.9v7.31h-1.9zM516 520.75h1.9v4.47h-1.9zM518.6 520.75h1.9v3.47h-1.9zM521.2 520.75h1.9v1.8h-1.9zM534.21 520.75h1.9v11.16h-1.9zM536.81 520.75h1.9v8.15h-1.9zM539.41 520.75h1.9v6.14h-1.9zM544.61 520.75h1.9v4.81h-1.9zM552.42 520.75h1.9v6.14h-1.9zM555.02 520.75h1.9v4.81h-1.9zM557.62 520.75h1.9v4.47h-1.9zM560.22 520.75h1.9v4.47h-1.9zM570.63 520.75h1.9v7.31h-1.9zM573.23 520.75h1.9v5.14h-1.9zM575.83 520.75h1.9v3.13h-1.9zM583.64 520.75h1.9v5.64h-1.9zM594.04 520.75h1.9v9.49h-1.9zM596.64 520.75h1.9v8.15h-1.9zM612.25 520.75h1.9v24.88h-1.9zM614.85 520.75h1.9v24.04h-1.9zM622.66 520.75h1.9v28.22h-1.9zM625.26 520.75h1.9v24.88h-1.9zM627.86 520.75h1.9v19.86h-1.9zM630.46 520.75h1.9v18.19h-1.9zM633.06 520.75h1.9v16.18h-1.9zM638.27 520.75h1.9v14.84h-1.9zM640.87 520.75h1.9v8.49h-1.9zM643.47 520.75h1.9v3.97h-1.9z" fill="#ea4a5a"/>
<path d="M0 511.84L6.69 511L12.54 509.67L16.73 506.32L20.91 502.14L25.09 498.46L30.11 495.12L35.12 493.11L40.14 492.27L46.83 492.44L53.52 492.27L60.21 491.27L66.9 490.1L73.59 490.43L78.61 491.27L85.3 492.61L91.99 495.12L98.68 497.96L105.37 500.8L110.39 502.47L117.08 502.47L122.09 501.3L127.11 498.46L133.8 494.61L137.01 493.44L140.02 492.11L145.04 493.44L151.73 495.45L158.42 496.62L162.6 496.62L168.45 492.94L175.14 487.92L181.83 483.41L188.52 481.74L195.21 482.91L201.9 484.58L208.59 485.92L215.28 486.75L221.97 486.42L228.66 487.09L235.35 488.09L240.37 490.43L247.06 495.45L253.75 501.81L260.44 507.49L267.13 512.51L270 514.18L275.02 517.19L280.04 519.7L286.73 520.54L293.42 519.87L300.11 519.53L306.8 519.87L311.81 518.87L316.83 516.36L321.85 513.01L326.87 509.67L331.88 507.49L336.9 506.82L341.92 507.16L346.94 508.83L351.95 512.18L356.97 516.36L361.99 519.2L367.01 519.7L372.02 518.03L377.04 515.86L380.39 515.19L385.4 516.36L390.42 518.87L395.44 520.87L400.46 521.88L403.8 521.54L405 521.37L410.02 519.2L415.04 517.19L421.73 515.52L428.42 514.52L433.43 514.68L436.78 515.19L440.12 513.01L445.14 508.5L450.16 503.81L455.18 498.8L460.19 493.44L465.21 488.43L470.23 482.91L475.25 477.89L480.26 474.04L485.28 472.37L491.97 472.04L496.99 471.2L502.01 473.71L507.02 476.22L513.71 478.73L520.4 479.56L525.42 480.06L532.11 483.74L538.8 486.25L540 486.75L546.69 488.76L553.38 490.43L560.07 491.77L566.76 493.78L573.45 495.45L580.14 497.46L586.83 499.63L593.52 502.14L600.21 505.15L604.39 507.99L608.57 513.85L613.59 521.37L618.61 528.9L623.63 535.59L628.64 540.61L633.66 544.79L638.68 547.63L643.7 549.31L647.88 549.31L652.06 546.96L657.08 542.28L663.77 534.75L670.46 528.06L675.47 524.72L678.82 523.55" fill="none" stroke="#f7c14d" stroke-width="0.7" stroke-linejoin="round"/>
<path d="M0 512.51L6.69 510.17L12.54 507.49L16.73 500.47L20.91 492.94L25.09 489.09L29.27 488.43L33.45 488.76L37.63 490.77L43.49 492.94L48.5 493.44L53.52 492.44L58.54 490.77L62.72 488.76L65.23 488.26L68.57 489.6L73.59 491.27L78.61 491.77L83.63 494.11L90.32 497.12L97.01 500.8L103.7 504.65L108.38 506.82L111.22 504.65L115.4 502.14L119.59 501.3L123.77 497.46L128.78 492.11L133.8 488.76L137.01 488.26L140.02 490.43L145.04 493.78L150.89 496.79L156.74 499.13L160.09 498.46L162.6 495.45L165.94 488.43L170.96 483.74L176.81 480.06L181.83 477.39L185.18 478.39L190.19 481.23L195.21 484.58L201.9 487.09L208.59 488.43L213.61 488.09L218.63 486.25L222.81 485.75L226.15 487.09L230.33 489.26L235.35 490.43L239.53 493.78L245.39 500.8L252.08 508.83L257.93 515.52L263.78 518.03L268.8 520.87L271.67 522.55L275.02 523.55L278.36 524.22L282.54 522.55L286.73 520.54L291.74 519.7L295.92 518.03L299.27 518.03L303.45 519.7L307.63 519.7L311.81 516.86L316.83 512.18L321.85 507.99L326.87 504.65L331.05 502.98L335.23 503.48L340.25 506.32L345.26 511.34L350.28 518.03L354.46 524.72L358.64 527.23L361.99 525.22L365.33 519.7L368.68 513.01L371.19 511.34L374.53 513.01L378.71 512.18L382.06 514.68L387.08 519.7L392.09 523.88L396.28 526.39L399.62 524.72L403.8 520.54L405 517.53L409.18 513.51L413.36 512.18L417.54 513.85L421.73 512.51L425.91 511.84L430.09 512.51L434.27 514.68L437.11 514.68L439.29 507.99L443.47 502.14L448.49 495.45L453.5 488.76L458.52 484.08L463.54 480.4L466.05 477.05L468.56 471.2L471.9 469.02L476.92 468.36L481.1 467.35L483.61 468.69L486.12 471.7L490.3 471.2L495.32 470.03L498.66 472.04L503.68 477.89L508.7 482.07L512.04 483.41L515.39 481.74L520.4 480.73L524.59 480.4L528.77 485.42L532.95 489.6L538.8 488.76L540 489.09L545.02 490.1L550.04 492.11L556.73 492.94L563.42 495.45L569.27 497.96L575.12 497.96L580.14 500.47L586.83 503.48L593.52 507.16L599.37 508.83L603.56 513.01L606.9 523.88L610.25 532.25L614.43 534.25L617.77 538.94L621.12 543.95L624.46 548.97L627.81 549.31L631.99 551.48L636.17 554.82L640.35 554.82L644.53 551.48L648.71 545.63L653.73 537.26L658.75 529.74L663.77 525.56L668.78 520.54L673.8 518.03L677.98 517.19" fill="none" stroke="#5fd0b3" stroke-width="0.7" stroke-linejoin="round"/>
<line x1="0" y1="57.2" x2="853" y2="57.2" stroke="#e6e8eb" stroke-width="0.6"/>
<line x1="0" y1="457.2" x2="853" y2="457.2" stroke="#e9ebee" stroke-width="0.6"/>
<line x1="0" y1="557.5" x2="853" y2="557.5" stroke="#eef0f3" stroke-width="0.6"/>
<line x1="821.2" y1="57.2" x2="821.2" y2="557.9" stroke="#f2f4f7" stroke-width="0.6"/>
<text x="826" y="441.74" font-size="5.9" fill="#8a8f99" textLength="20.2" lengthAdjust="spacingAndGlyphs">3700.00</text>
<text x="826" y="425.23" font-size="5.9" fill="#8a8f99" textLength="20.2" lengthAdjust="spacingAndGlyphs">3750.00</text>
<text x="826" y="408.71" font-size="5.9" fill="#8a8f99" textLength="20.2" lengthAdjust="spacingAndGlyphs">3800.00</text>
<text x="826" y="392.2" font-size="5.9" fill="#8a8f99" textLength="20.2" lengthAdjust="spacingAndGlyphs">3850.00</text>
<text x="826" y="375.68" font-size="5.9" fill="#8a8f99" textLength="20.2" lengthAdjust="spacingAndGlyphs">3900.00</text>
<text x="826" y="342.65" font-size="5.9" fill="#8a8f99" textLength="20.2" lengthAdjust="spacingAndGlyphs">4000.00</text>
<text x="826" y="326.14" font-size="5.9" fill="#8a8f99" textLength="20.2" lengthAdjust="spacingAndGlyphs">4050.00</text>
<text x="826" y="309.62" font-size="5.9" fill="#8a8f99" textLength="20.2" lengthAdjust="spacingAndGlyphs">4100.00</text>
<text x="826" y="293.11" font-size="5.9" fill="#8a8f99" textLength="20.2" lengthAdjust="spacingAndGlyphs">4150.00</text>
<text x="826" y="276.59" font-size="5.9" fill="#8a8f99" textLength="20.2" lengthAdjust="spacingAndGlyphs">4200.00</text>
<text x="826" y="260.08" font-size="5.9" fill="#8a8f99" textLength="20.2" lengthAdjust="spacingAndGlyphs">4250.00</text>
<text x="826" y="243.56" font-size="5.9" fill="#8a8f99" textLength="20.2" lengthAdjust="spacingAndGlyphs">4300.00</text>
<text x="826" y="227.05" font-size="5.9" fill="#8a8f99" textLength="20.2" lengthAdjust="spacingAndGlyphs">4350.00</text>
<text x="826" y="210.53" font-size="5.9" fill="#8a8f99" textLength="20.2" lengthAdjust="spacingAndGlyphs">4400.00</text>
<text x="826" y="194.02" font-size="5.9" fill="#8a8f99" textLength="20.2" lengthAdjust="spacingAndGlyphs">4450.00</text>
<text x="826" y="177.5" font-size="5.9" fill="#8a8f99" textLength="20.2" lengthAdjust="spacingAndGlyphs">4500.00</text>
<text x="826" y="160.99" font-size="5.9" fill="#8a8f99" textLength="20.2" lengthAdjust="spacingAndGlyphs">4550.00</text>
<text x="826" y="127.96" font-size="5.9" fill="#8a8f99" textLength="20.2" lengthAdjust="spacingAndGlyphs">4650.00</text>
<text x="826" y="111.44" font-size="5.9" fill="#8a8f99" textLength="20.2" lengthAdjust="spacingAndGlyphs">4700.00</text>
<text x="826" y="94.93" font-size="5.9" fill="#8a8f99" textLength="20.2" lengthAdjust="spacingAndGlyphs">4750.00</text>
<text x="826" y="78.41" font-size="5.9" fill="#8a8f99" textLength="20.2" lengthAdjust="spacingAndGlyphs">4800.00</text>
<text x="829.36" y="468.27" font-size="5.9" fill="#8a8f99" textLength="13.89" lengthAdjust="spacingAndGlyphs">80.00</text>
<text x="829.36" y="481.88" font-size="5.9" fill="#8a8f99" textLength="13.89" lengthAdjust="spacingAndGlyphs">60.00</text>
<text x="829.36" y="495.49" font-size="5.9" fill="#8a8f99" textLength="13.89" lengthAdjust="spacingAndGlyphs">40.00</text>
<text x="829.36" y="509.1" font-size="5.9" fill="#8a8f99" textLength="13.89" lengthAdjust="spacingAndGlyphs">20.00</text>
<text x="830.9" y="522.71" font-size="5.9" fill="#8a8f99" textLength="10.8" lengthAdjust="spacingAndGlyphs">0.00</text>
<text x="828.43" y="536.32" font-size="5.9" fill="#8a8f99" textLength="15.74" lengthAdjust="spacingAndGlyphs">-20.00</text>
<text x="828.43" y="549.93" font-size="5.9" fill="#8a8f99" textLength="15.74" lengthAdjust="spacingAndGlyphs">-40.00</text>
<rect x="821.1" y="129" width="30.1" height="9" fill="#ee4458"/>
<rect x="821.1" y="139.3" width="30.1" height="8.4" fill="#ee4458"/>
<line x1="821.4" y1="133.2" x2="823.9" y2="133.2" stroke="#fff" stroke-width="0.55"/>
<text x="825.8" y="135.51" font-size="5.9" fill="#fff" textLength="20.5" lengthAdjust="spacingAndGlyphs">4628.00</text>
<text x="828.9" y="145.41" font-size="5.9" fill="#fff" textLength="13.7" lengthAdjust="spacingAndGlyphs">07:31</text>
<rect x="821.7" y="345.3" width="29.5" height="18.4" fill="#52607a"/>
<text x="825.8" y="351.75" font-size="6" fill="#fff" textLength="20.2" lengthAdjust="spacingAndGlyphs">3958.31</text>
<text x="825.8" y="361.35" font-size="6" fill="#fff" textLength="20.5" lengthAdjust="spacingAndGlyphs">-14.47%</text>
<rect x="811.9" y="350.2" width="9.1" height="8.8" fill="#52607a"/>
<line x1="813.8" y1="354.7" x2="819" y2="354.7" stroke="#fff" stroke-width="0.7"/>
<line x1="816.4" y1="351.8" x2="816.4" y2="357.7" stroke="#fff" stroke-width="0.7"/>
<rect x="0" y="300.1" width="1.9" height="16.6" fill="#dedede"/>
<rect x="0" y="306.8" width="1" height="2.8" fill="#666"/>
<rect x="850" y="300.1" width="3" height="16.6" fill="#dedede"/>
<path d="M850.6 307.2l1.2 1.1l-1.2 1.1M852.4 306.9v2.8" fill="none" stroke="#444" stroke-width="0.62"/>
<rect x="804.4" y="60.2" width="8.4" height="7.4" fill="#fff" rx="0.5" stroke="#e1e4e9" stroke-width="0.5"/>
<path d="M805.6 66.4l1.6-1.4M805.6 64.9v1.5h1.6M811.6 61.4l-1.6 1.4M810 61.4h1.6v1.5" fill="none" stroke="#b4bac3" stroke-width="0.62"/>
<text x="557.4" y="82.21" font-size="5.9" fill="#333" textLength="20.2" lengthAdjust="spacingAndGlyphs">4788.00</text>
<path d="M579 80.1h3.6M581.4 79l1.3 1.1l-1.3 1.1" fill="none" stroke="#333" stroke-width="0.75"/>
<text x="7" y="453.11" font-size="5.9" fill="#333" textLength="19.9" lengthAdjust="spacingAndGlyphs">3665.05</text>
<path d="M4.4 451h-3.3M2.3 449.9l-1.3 1.1l1.3 1.1" fill="none" stroke="#333" stroke-width="0.75"/>
<circle cx="9" cy="62.3" r="3.5" fill="none" stroke="#8a8f99" stroke-width="0.5"/>
<path d="M7.1 61.8l1.9 1.6l1.9 -1.6" fill="none" stroke="#8a8f99" stroke-width="0.69"/>
<text x="15.2" y="64.41" font-size="5.9" fill="#8a8f99" textLength="26.5" lengthAdjust="spacingAndGlyphs">ETH/USDT</text>
<text x="45" y="64.59" font-size="5.9" fill="#8a8f99" textLength="10.1" lengthAdjust="spacingAndGlyphs">周二</text>
<text x="57.4" y="64.41" font-size="5.9" fill="#8a8f99" textLength="43.9" lengthAdjust="spacingAndGlyphs">2025-08-12 20:00</text>
<text x="104.3" y="64.59" font-size="5.9" fill="#8a8f99" textLength="4.7" lengthAdjust="spacingAndGlyphs">开</text>
<text x="111.4" y="64.41" font-size="5.9" fill="#2ebd8f" font-weight="bold" textLength="19.9" lengthAdjust="spacingAndGlyphs">4290.94</text>
<text x="134.1" y="64.59" font-size="5.9" fill="#8a8f99" textLength="4.4" lengthAdjust="spacingAndGlyphs">高</text>
<text x="140.7" y="64.41" font-size="5.9" fill="#2ebd8f" font-weight="bold" textLength="21.1" lengthAdjust="spacingAndGlyphs">4416.08</text>
<text x="164.6" y="64.59" font-size="5.9" fill="#8a8f99" textLength="4.7" lengthAdjust="spacingAndGlyphs">低</text>
<text x="171.6" y="64.41" font-size="5.9" fill="#2ebd8f" font-weight="bold" textLength="20.2" lengthAdjust="spacingAndGlyphs">4278.01</text>
<text x="195" y="64.59" font-size="5.9" fill="#8a8f99" textLength="4.5" lengthAdjust="spacingAndGlyphs">收</text>
<text x="201.6" y="64.41" font-size="5.9" fill="#2ebd8f" font-weight="bold" textLength="20.4" lengthAdjust="spacingAndGlyphs">4407.71</text>
<text x="225.1" y="64.59" font-size="5.9" fill="#8a8f99" textLength="11.3" lengthAdjust="spacingAndGlyphs">涨幅</text>
<text x="238.2" y="64.41" font-size="5.9" fill="#2ebd8f" font-weight="bold" textLength="36" lengthAdjust="spacingAndGlyphs">2.72%(116.77)</text>
<text x="276.8" y="64.59" font-size="5.9" fill="#8a8f99" textLength="11.3" lengthAdjust="spacingAndGlyphs">振幅</text>
<text x="289.9" y="64.41" font-size="5.9" fill="#2ebd8f" font-weight="bold" textLength="13.8" lengthAdjust="spacingAndGlyphs">3.22%</text>
<text x="307" y="64.59" font-size="5.9" fill="#8a8f99" textLength="22.68" lengthAdjust="spacingAndGlyphs">距实时价</text>
<text x="331" y="64.41" font-size="5.9" fill="#ee4458" font-weight="bold" textLength="42.8" lengthAdjust="spacingAndGlyphs">-14.47%(-669.69)</text>
<circle cx="9" cy="71.1" r="3.5" fill="none" stroke="#8a8f99" stroke-width="0.5"/>
<path d="M7.1 70.6l1.9 1.6l1.9 -1.6" fill="none" stroke="#8a8f99" stroke-width="0.69"/>
<text x="15.2" y="73.39" font-size="5.9" fill="#8a8f99" textLength="10.1" lengthAdjust="spacingAndGlyphs">筹码</text>
<text x="27.7" y="73.39" font-size="5.9" fill="#8a8f99" textLength="5.48" lengthAdjust="spacingAndGlyphs">买</text>
<text x="33.18" y="73.21" font-size="5.9" fill="#8a8f99" textLength="1.52" lengthAdjust="spacingAndGlyphs">:</text>
<text x="34.7" y="73.21" font-size="5.9" fill="#3b82f6" textLength="25.1" lengthAdjust="spacingAndGlyphs">47,115.06</text>
<text x="61" y="73.39" font-size="5.9" fill="#8a8f99" textLength="5.48" lengthAdjust="spacingAndGlyphs">卖</text>
<text x="66.48" y="73.21" font-size="5.9" fill="#8a8f99" textLength="1.52" lengthAdjust="spacingAndGlyphs">:</text>
<text x="68" y="73.21" font-size="5.9" fill="#f5a623" textLength="25.1" lengthAdjust="spacingAndGlyphs">35,928.44</text>
<text x="94.3" y="73.39" font-size="5.9" fill="#8a8f99" textLength="5.64" lengthAdjust="spacingAndGlyphs">共</text>
<text x="99.94" y="73.21" font-size="5.9" fill="#8a8f99" textLength="26.66" lengthAdjust="spacingAndGlyphs">:83,043.50</text>
<text x="127.8" y="73.39" font-size="5.9" fill="#3b82f6" textLength="4.93" lengthAdjust="spacingAndGlyphs">差</text>
<text x="132.73" y="73.21" font-size="5.9" fill="#3b82f6" textLength="1.37" lengthAdjust="spacingAndGlyphs">:</text>
<text x="134.1" y="73.21" font-size="5.9" fill="#3b82f6" textLength="24.9" lengthAdjust="spacingAndGlyphs">11,186.62</text>
<text x="160.6" y="73.39" font-size="5.9" fill="#8a8f99" textLength="5" lengthAdjust="spacingAndGlyphs">集</text>
<text x="165.6" y="73.21" font-size="5.9" fill="#8a8f99" textLength="11.4" lengthAdjust="spacingAndGlyphs">70%:</text>
<text x="177.7" y="73.21" font-size="5.9" fill="#3b82f6" textLength="15" lengthAdjust="spacingAndGlyphs">6.36%</text>
<circle cx="9" cy="461.8" r="3.6" fill="none" stroke="#8a8f99" stroke-width="0.5"/>
<path d="M7.1 461.3l1.9 1.6l1.9 -1.6" fill="none" stroke="#8a8f99" stroke-width="0.69"/>
<path d="M15.6 463.5h4.8M16.5 463.4v-2.2a1.5 1.5 0 0 1 3 0v2.2M17.4 464.5h1.2" fill="none" stroke="#8a8f99" stroke-width="0.62"/>
<text x="22.4" y="463.91" font-size="5.9" fill="#8a8f99" textLength="37.2" lengthAdjust="spacingAndGlyphs">MACD(12,26,9)</text>
<text x="62.8" y="463.91" font-size="5.9" fill="#3cc6a4" font-weight="bold" textLength="23.3" lengthAdjust="spacingAndGlyphs">DIF:16.56</text>
<text x="88.7" y="463.91" font-size="5.9" fill="#f7b733" font-weight="bold" textLength="26.5" lengthAdjust="spacingAndGlyphs">DEA:10.42</text>
<text x="118" y="463.91" font-size="5.9" fill="#2ebd8f" font-weight="bold" textLength="31.1" lengthAdjust="spacingAndGlyphs">MACD:12.30</text>
<text x="31.45" y="564.96" font-size="6.3" fill="#8a8f99" textLength="3.23" lengthAdjust="spacingAndGlyphs">8</text>
<text x="34.68" y="565.14" font-size="6.3" fill="#8a8f99" textLength="5.82" lengthAdjust="spacingAndGlyphs">月</text>
<text x="42.12" y="564.96" font-size="6.3" fill="#8a8f99" textLength="3.23" lengthAdjust="spacingAndGlyphs">8</text>
<text x="114.75" y="564.96" font-size="6.3" fill="#8a8f99" textLength="3.23" lengthAdjust="spacingAndGlyphs">8</text>
<text x="117.98" y="565.14" font-size="6.3" fill="#8a8f99" textLength="5.82" lengthAdjust="spacingAndGlyphs">月</text>
<text x="125.42" y="564.96" font-size="6.3" fill="#8a8f99" textLength="3.23" lengthAdjust="spacingAndGlyphs">9</text>
<text x="197.25" y="564.96" font-size="6.3" fill="#8a8f99" textLength="3" lengthAdjust="spacingAndGlyphs">8</text>
<text x="200.25" y="565.14" font-size="6.3" fill="#8a8f99" textLength="5.4" lengthAdjust="spacingAndGlyphs">月</text>
<text x="207.15" y="564.96" font-size="6.3" fill="#8a8f99" textLength="6" lengthAdjust="spacingAndGlyphs">10</text>
<text x="280.25" y="564.96" font-size="6.3" fill="#8a8f99" textLength="3" lengthAdjust="spacingAndGlyphs">8</text>
<text x="283.25" y="565.14" font-size="6.3" fill="#8a8f99" textLength="5.4" lengthAdjust="spacingAndGlyphs">月</text>
<text x="290.15" y="564.96" font-size="6.3" fill="#8a8f99" textLength="6" lengthAdjust="spacingAndGlyphs">11</text>
<text x="363.45" y="564.96" font-size="6.3" fill="#8a8f99" textLength="3" lengthAdjust="spacingAndGlyphs">8</text>
<text x="366.45" y="565.14" font-size="6.3" fill="#8a8f99" textLength="5.4" lengthAdjust="spacingAndGlyphs">月</text>
<text x="373.35" y="564.96" font-size="6.3" fill="#8a8f99" textLength="6" lengthAdjust="spacingAndGlyphs">12</text>
<text x="530.05" y="564.96" font-size="6.3" fill="#8a8f99" textLength="3" lengthAdjust="spacingAndGlyphs">8</text>
<text x="533.05" y="565.14" font-size="6.3" fill="#8a8f99" textLength="5.4" lengthAdjust="spacingAndGlyphs">月</text>
<text x="539.95" y="564.96" font-size="6.3" fill="#8a8f99" textLength="6" lengthAdjust="spacingAndGlyphs">14</text>
<text x="613.05" y="564.96" font-size="6.3" fill="#8a8f99" textLength="3" lengthAdjust="spacingAndGlyphs">8</text>
<text x="616.05" y="565.14" font-size="6.3" fill="#8a8f99" textLength="5.4" lengthAdjust="spacingAndGlyphs">月</text>
<text x="622.95" y="564.96" font-size="6.3" fill="#8a8f99" textLength="6" lengthAdjust="spacingAndGlyphs">15</text>
<text x="696.05" y="564.96" font-size="6.3" fill="#8a8f99" textLength="3" lengthAdjust="spacingAndGlyphs">8</text>
<text x="699.05" y="565.14" font-size="6.3" fill="#8a8f99" textLength="5.4" lengthAdjust="spacingAndGlyphs">月</text>
<text x="705.95" y="564.96" font-size="6.3" fill="#8a8f99" textLength="6" lengthAdjust="spacingAndGlyphs">16</text>
<text x="779.55" y="564.96" font-size="6.3" fill="#8a8f99" textLength="3" lengthAdjust="spacingAndGlyphs">8</text>
<text x="782.55" y="565.14" font-size="6.3" fill="#8a8f99" textLength="5.4" lengthAdjust="spacingAndGlyphs">月</text>
<text x="789.45" y="564.96" font-size="6.3" fill="#8a8f99" textLength="6" lengthAdjust="spacingAndGlyphs">17</text>
<rect x="408" y="559" width="62.1" height="8.2" fill="#52607a"/>
<text x="410.8" y="565.72" font-size="6.5" fill="#fff" textLength="11.04" lengthAdjust="spacingAndGlyphs">周二</text>
<text x="423.38" y="565.53" font-size="6.5" fill="#fff" textLength="43.62" lengthAdjust="spacingAndGlyphs">2025-08-12 20:00</text>
<text x="832.8" y="565.89" font-size="5.9" fill="#2b2f36" font-weight="bold">筹</text>
<text x="842.7" y="566.04" font-size="6.3" fill="#8a8f99">爆</text>
<circle cx="10.4" cy="9.6" r="1.9" fill="none" stroke="#3a66f0" stroke-width="1.1"/>
<rect x="10.5" y="7" width="2.4" height="2.5" fill="#fff"/>
<rect x="10.9" y="7.8" width="1.5" height="1.5" fill="#27c2a0" rx="0.3"/>
<text x="18" y="12.1" font-size="6.7" fill="#7a7f88" textLength="29.7" lengthAdjust="spacingAndGlyphs">ETH/USDT</text>
<text x="8" y="20.8" font-size="6.7" fill="#f04a5c" textLength="45.1" lengthAdjust="spacingAndGlyphs">4627.46 0.19%</text>
<rect x="77.1" y="3.2" width="72.6" height="19.8" fill="#e9e9e9" rx="2"/>
<circle cx="84.2" cy="9.7" r="2.6" fill="#fff"/>
<path d="M84.2 7.6l2.1 2.1l-2.1 2.1l-2.1-2.1z" fill="#f3ba2f"/>
<text x="91.7" y="12.1" font-size="6.7" fill="#2f333a" textLength="31.4" lengthAdjust="spacingAndGlyphs">ETH/USDT</text>
<text x="81.3" y="20.91" font-size="6.72" fill="#2ebd8f" textLength="45.2" lengthAdjust="spacingAndGlyphs">4627.66 0.18%</text>
<path d="M161.8 13.1h6.2M164.9 10v6.2" fill="none" stroke="#6b7078" stroke-width="0.65"/>
<line x1="0" y1="26.4" x2="853" y2="26.4" stroke="#eceef0" stroke-width="0.6"/>
<line x1="0" y1="41.4" x2="853" y2="41.4" stroke="#eceef0" stroke-width="0.6"/>
<path d="M5.6 31.3h6.5v6.5h-6.5zM6.9 35.9l1.5-1.8l1.3 1l1.5-1.8" fill="none" stroke="#6b7078" stroke-width="0.69"/>
<text x="14.4" y="37.01" font-size="6.2" fill="#5f646c" textLength="12.4" lengthAdjust="spacingAndGlyphs">指标</text>
<path d="M34.4 33.9h6.9v3.8h-6.9zM35.8 33.9v-2h4.1v2M34.4 35.4h6.9" fill="none" stroke="#6b7078" stroke-width="0.69"/>
<text x="43.6" y="36.95" font-size="6.05" fill="#5f646c" textLength="12.1" lengthAdjust="spacingAndGlyphs">高级</text>
<path d="M64.3 32h1.8v5.3h-1.8zM67.2 32h2.3v2.2h-2.3zM67.2 35.2h2.3v2.1h-2.3z" fill="none" stroke="#6b7078" stroke-width="0.62"/>
<text x="71.8" y="36.99" font-size="6.15" fill="#5f646c" textLength="12.3" lengthAdjust="spacingAndGlyphs">多窗</text>
<path d="M95 32.2l-2.6 2.4l2.6 2.4zM98 32.2l-2.6 2.4l2.6 2.4z" fill="none" stroke="#6b7078" stroke-width="0.75"/>
<text x="100.7" y="36.91" font-size="5.95" fill="#5f646c" textLength="11.9" lengthAdjust="spacingAndGlyphs">复盘</text>
<path d="M123.2 32.8v4M125.1 31.6v6.2M127 33.2v3.4" fill="none" stroke="#6b7078" stroke-width="0.62"/>
<rect x="122.6" y="33.8" width="1.2" height="2" fill="#6b7078"/>
<rect x="124.5" y="32.8" width="1.2" height="3.8" fill="#6b7078"/>
<rect x="126.4" y="33.9" width="1.2" height="2" fill="#6b7078"/>
<path d="M131.3 33.9l1.5 1.4l1.5-1.4" fill="none" stroke="#6b7078" stroke-width="0.62"/>
<text x="144.5" y="36.85" font-size="5.8" fill="#5f646c" textLength="11.6" lengthAdjust="spacingAndGlyphs">周期</text>
<path d="M159.1 33.9l1.5 1.4l1.5-1.4" fill="none" stroke="#6b7078" stroke-width="0.62"/>
<text x="174.4" y="36.86" font-size="6.3" fill="#7a7f88" textLength="3.18" lengthAdjust="spacingAndGlyphs">1</text>
<text x="177.58" y="37.04" font-size="6.3" fill="#7a7f88" textLength="5.72" lengthAdjust="spacingAndGlyphs">秒</text>
<text x="195.8" y="36.86" font-size="6.3" fill="#7a7f88" textLength="3.15" lengthAdjust="spacingAndGlyphs">2</text>
<text x="198.95" y="37.04" font-size="6.3" fill="#7a7f88" textLength="5.65" lengthAdjust="spacingAndGlyphs">秒</text>
<text x="217.1" y="36.86" font-size="6.3" fill="#7a7f88" textLength="3.18" lengthAdjust="spacingAndGlyphs">4</text>
<text x="220.28" y="37.04" font-size="6.3" fill="#7a7f88" textLength="5.72" lengthAdjust="spacingAndGlyphs">秒</text>
<text x="238.5" y="36.86" font-size="6.3" fill="#7a7f88" textLength="3.15" lengthAdjust="spacingAndGlyphs">6</text>
<text x="241.65" y="37.04" font-size="6.3" fill="#7a7f88" textLength="5.65" lengthAdjust="spacingAndGlyphs">秒</text>
<text x="259.8" y="36.86" font-size="6.3" fill="#7a7f88" textLength="7.06" lengthAdjust="spacingAndGlyphs">30</text>
<text x="266.86" y="37.04" font-size="6.3" fill="#7a7f88" textLength="6.34" lengthAdjust="spacingAndGlyphs">秒</text>
<text x="285.6" y="36.86" font-size="6.3" fill="#7a7f88" textLength="3.32" lengthAdjust="spacingAndGlyphs">1</text>
<text x="288.92" y="37.04" font-size="6.3" fill="#7a7f88" textLength="5.98" lengthAdjust="spacingAndGlyphs">分</text>
<text x="306.7" y="36.86" font-size="6.3" fill="#7a7f88" textLength="3.43" lengthAdjust="spacingAndGlyphs">2</text>
<text x="310.13" y="37.04" font-size="6.3" fill="#7a7f88" textLength="6.17" lengthAdjust="spacingAndGlyphs">分</text>
<text x="328.1" y="36.86" font-size="6.3" fill="#7a7f88" textLength="3.4" lengthAdjust="spacingAndGlyphs">3</text>
<text x="331.5" y="37.04" font-size="6.3" fill="#7a7f88" textLength="6.1" lengthAdjust="spacingAndGlyphs">分</text>
<text x="349.4" y="36.86" font-size="6.3" fill="#7a7f88" textLength="3.4" lengthAdjust="spacingAndGlyphs">5</text>
<text x="352.8" y="37.04" font-size="6.3" fill="#7a7f88" textLength="6.1" lengthAdjust="spacingAndGlyphs">分</text>
<text x="371.6" y="36.86" font-size="6.3" fill="#7a7f88" textLength="7" lengthAdjust="spacingAndGlyphs">15</text>
<text x="378.6" y="37.04" font-size="6.3" fill="#7a7f88" textLength="6.3" lengthAdjust="spacingAndGlyphs">分</text>
<text x="421.9" y="37.04" font-size="6.3" fill="#7a7f88" textLength="12.5" lengthAdjust="spacingAndGlyphs">分时</text>
<text x="446.5" y="36.86" font-size="6.3" fill="#7a7f88" textLength="3.4" lengthAdjust="spacingAndGlyphs">1</text>
<text x="449.9" y="37.04" font-size="6.3" fill="#7a7f88" textLength="6.1" lengthAdjust="spacingAndGlyphs">时</text>
<text x="467.8" y="36.86" font-size="6.3" fill="#7a7f88" textLength="3.43" lengthAdjust="spacingAndGlyphs">4</text>
<text x="471.23" y="37.04" font-size="6.3" fill="#7a7f88" textLength="6.17" lengthAdjust="spacingAndGlyphs">时</text>
<text x="489.2" y="36.86" font-size="6.3" fill="#7a7f88" textLength="3.4" lengthAdjust="spacingAndGlyphs">8</text>
<text x="492.6" y="37.04" font-size="6.3" fill="#7a7f88" textLength="6.1" lengthAdjust="spacingAndGlyphs">时</text>
<text x="511" y="36.86" font-size="6.3" fill="#7a7f88" textLength="3.22" lengthAdjust="spacingAndGlyphs">1</text>
<text x="514.22" y="37.04" font-size="6.3" fill="#7a7f88" textLength="5.78" lengthAdjust="spacingAndGlyphs">日</text>
<text x="532.3" y="37.04" font-size="6.3" fill="#7a7f88" textLength="6.42" lengthAdjust="spacingAndGlyphs">周</text>
<text x="538.72" y="36.86" font-size="6.3" fill="#7a7f88" textLength="4.28" lengthAdjust="spacingAndGlyphs">K</text>
<text x="555" y="37.04" font-size="6.3" fill="#7a7f88" textLength="6.54" lengthAdjust="spacingAndGlyphs">月</text>
<text x="561.54" y="36.86" font-size="6.3" fill="#7a7f88" textLength="4.36" lengthAdjust="spacingAndGlyphs">K</text>
<rect x="392.6" y="28.9" width="21.3" height="10.7" fill="#ebebeb" rx="1.5"/>
<text x="396.3" y="36.86" font-size="6.3" fill="#2b2f36" textLength="7.27" lengthAdjust="spacingAndGlyphs">45</text>
<text x="403.57" y="37.04" font-size="6.3" fill="#2b2f36" textLength="6.53" lengthAdjust="spacingAndGlyphs">分</text>
<text x="655.9" y="36.87" font-size="6.63" fill="#3a3e45" textLength="7" lengthAdjust="spacingAndGlyphs">0s</text>
<path d="M671.2 32.9h1.7l.6-.9h1.9l.6.9h1.7v4.3h-6.5z" fill="none" stroke="#8a8f99" stroke-width="0.62"/>
<circle cx="674.4" cy="35" r="1.1" fill="none" stroke="#8a8f99" stroke-width="0.5"/>
<path d="M685.6 37l.4-1.7l3.6-3.6l1.3 1.3l-3.6 3.6zM688.6 37.6h2.8" fill="none" stroke="#2f333a" stroke-width="0.69"/>
<path d="M699 31.8h5v5.2M697.6 34.2h2.6M698.9 32.9v2.6M701.2 37.4h2.8" fill="none" stroke="#2f333a" stroke-width="0.69"/>
<path d="M712.2 32.7h5.4M712.2 34.6h5.4M712.2 36.5h5.4" fill="none" stroke="#b0b5bd" stroke-width="0.62"/>
<text x="721" y="36.83" font-size="6" fill="#7a7f88" textLength="12" lengthAdjust="spacingAndGlyphs">显示</text>
<circle cx="742.2" cy="34.6" r="3" fill="none" stroke="#7a7f88" stroke-width="0.55"/><circle cx="742.2" cy="34.6" r="1.2" fill="none" stroke="#7a7f88" stroke-width="0.5"/>
<rect x="753.4" y="32.3" width="1.5" height="1.5" fill="#2f333a" rx="0.3"/>
<rect x="753.4" y="36.2" width="1.5" height="1.5" fill="#2f333a" rx="0.3"/>
<rect x="757.2" y="32.3" width="1.5" height="1.5" fill="#2f333a" rx="0.3"/>
<rect x="757.2" y="36.2" width="1.5" height="1.5" fill="#2f333a" rx="0.3"/>
<line x1="764.5" y1="27" x2="764.5" y2="41" stroke="#eceef0" stroke-width="0.6"/>
<path d="M769.6 37h4.2a1.5 1.5 0 0 0 .2-3a2.1 2.1 0 0 0-4.1-.3a1.7 1.7 0 0 0-.3 3.3z" fill="none" stroke="#7a7f88" stroke-width="0.62"/>
<text x="777.9" y="36.6" font-size="5.4" fill="#2b2f36" textLength="16.2" lengthAdjust="spacingAndGlyphs">未命名</text>
<path d="M796.8 34l1.7 1.5l1.7-1.5" fill="none" stroke="#7a7f88" stroke-width="0.62"/>
<path d="M811.6 30.1h20.9a1.8 1.8 0 0 1 1.8 1.8v3.4a4 4 0 0 1-4 4h-19.1a1.6 1.6 0 0 1-1.6-2l1-5.6a1.8 1.8 0 0 1 1.8-1.6z" fill="url(#aig)"/>
<text x="813.6" y="36.73" font-size="5.67" fill="#fff" font-weight="bold" textLength="5.67" lengthAdjust="spacingAndGlyphs">AI</text>
<text x="819.27" y="36.9" font-size="5.67" fill="#fff" font-weight="bold" textLength="11.33" lengthAdjust="spacingAndGlyphs">解读</text>
<path d="M845.9 32.2l-4.2 2.4l4.2 2.4" fill="none" stroke="#2f333a" stroke-width="0.69"/>
<circle cx="846.1" cy="32.1" r="0.95" fill="#fff" stroke="#2f333a" stroke-width="0.55"/>
<circle cx="841.4" cy="34.6" r="0.95" fill="#fff" stroke="#2f333a" stroke-width="0.55"/>
<circle cx="846.1" cy="37.1" r="0.95" fill="#fff" stroke="#2f333a" stroke-width="0.55"/>
<path d="M6.8 52.2l5.2-5.2" fill="none" stroke="#2f333a" stroke-width="0.75"/>
<circle cx="6.9" cy="52.1" r="0.65" fill="#2f333a"/><circle cx="11.9" cy="47.1" r="0.65" fill="#2f333a"/>
<path d="M21.3 47.3h6.4M21.3 49.5h6.4M21.3 51.7h6.4M23.2 46.6v1.4M25.8 48.8v1.4M23.2 51v1.4" fill="none" stroke="#2f333a" stroke-width="0.62"/>
<path d="M36.1 47.4h6.5M36.1 49.3h6.5" fill="none" stroke="#7a7f88" stroke-width="0.62"/>
<path d="M36.1 51.6h6.5" fill="none" stroke="#2f333a" stroke-width="0.75"/>
<path d="M51 49.5h7" fill="none" stroke="#2f333a" stroke-width="0.69"/>
<circle cx="52.6" cy="49.5" r="0.7" fill="#2f333a"/>
<path d="M66.2 47.2h6.5v4.6h-6.5z" fill="none" stroke="#2f333a" stroke-width="0.69"/>
<path d="M80.8 51l1-2.6h4.8l1 2.6z" fill="#2f333a"/>
<circle cx="96.6" cy="49.5" r="0.75" fill="#2f333a"/>
<circle cx="98.8" cy="49.5" r="0.75" fill="#2f333a"/>
<circle cx="101" cy="49.5" r="0.75" fill="#2f333a"/>
<line x1="110.2" y1="45.5" x2="110.2" y2="53.5" stroke="#e6e8eb" stroke-width="0.6"/>
<text x="119.4" y="52.37" font-size="7.4" fill="#e8b03c">主</text>
<text x="136.7" y="52.37" font-size="7.4" fill="#e8b03c">大</text>
<text x="153.4" y="52.37" font-size="7.4" fill="#e8b03c">筹</text>
<path d="M171 47.2h5.2v5h-5.2zM172.6 51.6l3.8-3.8M175.5 46.2l1.2 1l-1.2 1M170.6 49.8l1.2 1l1.2-1" fill="none" stroke="#2f333a" stroke-width="0.69"/>
<path d="M185.6 52l4.8-4.6M189.4 50.2l2.6-1.4l.6 1.6l-2.4 1.2z" fill="none" stroke="#2f333a" stroke-width="0.69"/>
<circle cx="186" cy="51.8" r="0.7" fill="#2f333a"/>
<line x1="199.4" y1="45.5" x2="199.4" y2="53.5" stroke="#e6e8eb" stroke-width="0.6"/>
<path d="M208.2 46.6h3.2v3.2h-3.2zM210 48.2h3.8v4.2h-2l-1.8-1.4z" fill="none" stroke="#2f333a" stroke-width="0.69"/>
<path d="M223.6 51.6l3.6-3.8l1.4 1.3l-3.6 3.8l-1.7.3z" fill="none" stroke="#2f333a" stroke-width="0.69"/>
<rect x="235.5" y="44.4" width="11.2" height="10.5" fill="#ebebeb" rx="1.2"/>
<path d="M238.3 51l2.9-3.4l1.3 1.1l-2.9 3.4l-1.6.3zM241.6 52.4q1-.9 1.7 0t1.6 0" fill="none" stroke="#2f333a" stroke-width="0.69"/>
<path d="M253.6 47.8v3.6M255.4 47v5.2M257.6 47v5.2M259.4 47.8v3.6" fill="none" stroke="#2f333a" stroke-width="0.62"/>
<rect x="254.8" y="48" width="1.2" height="3.2" fill="#2f333a"/>
<rect x="257" y="48" width="1.2" height="3.2" fill="#2f333a"/>
<path d="M269.2 48.2h4.4v4h-4.4zM270.2 48.2v-1.1h2.4v1.1M271.4 49.6v1.3" fill="none" stroke="#2f333a" stroke-width="0.69"/>
<path d="M283.4 46.9h5.8v5.6h-5.8zM285 50.8l.3-1.4l2.6-2.4M285 52.4h3" fill="none" stroke="#2f333a" stroke-width="0.69"/>
<path d="M298.6 50.2l2.6-2.8l2.2 1.6l-2.6 2.8zM299.4 51.2l1.4 1.2M302 50.4l1.2.8" fill="none" stroke="#2f333a" stroke-width="0.75"/>
<rect x="310.5" y="44.4" width="11.5" height="10.5" fill="#ebebeb" rx="1.2"/>
<path d="M313.2 46.8h6.2l-2.4 2.9v3l-1.4-.8v-2.2z" fill="none" stroke="#2f333a" stroke-width="0.75"/>
<path d="M328.6 47.8h5M329.4 47.8l.3 4.6h3.4l.3-4.6M330.2 47.8v-1h1.8v1M330.4 49.6h1.6" fill="none" stroke="#2f333a" stroke-width="0.69"/>
<path d="M343.6 49l1.8-1.6M343.6 49l1.8 1.4M343.6 49h3.4a2.2 2.2 0 0 1 2.2 2.2" fill="none" stroke="#c3c7cd" stroke-width="0.69"/>
<path d="M364 49l-1.8-1.6M364 49l-1.8 1.4M364 49h-3.4a2.2 2.2 0 0 0-2.2 2.2" fill="none" stroke="#c3c7cd" stroke-width="0.69"/>
<line x1="0" y1="569.2" x2="853" y2="569.2" stroke="#ecedf0" stroke-width="0.6"/>
<path d="M10.2 574.6h4.6v5.2h-4.6M8.2 576.2h3.6M9.2 575.3l-1 .9l1 .9M8.2 578.4h3.6M9.2 577.5l-1 .9l1 .9" fill="none" stroke="#2f333a" stroke-width="0.62"/>
<text x="18.8" y="579.47" font-size="5.84" fill="#2b2f36" font-weight="bold" textLength="17.53" lengthAdjust="spacingAndGlyphs">定位到</text>
<text x="36.33" y="579.29" font-size="5.84" fill="#2b2f36" font-weight="bold" textLength="4.87" lengthAdjust="spacingAndGlyphs">...</text>
<line x1="47.5" y1="570.3" x2="47.5" y2="583.6" stroke="#e6e8eb" stroke-width="0.6"/>
<text x="57.2" y="579.5" font-size="5.93" fill="#2b2f36" font-weight="bold" textLength="23.72" lengthAdjust="spacingAndGlyphs">日期范围</text>
<path d="M83.4 576.5l1.5 1.4l1.5-1.4" fill="none" stroke="#444" stroke-width="0.62"/>
<line x1="95.5" y1="570.3" x2="95.5" y2="583.6" stroke="#e6e8eb" stroke-width="0.6"/>
<text x="105.4" y="579.6" font-size="6.7" fill="#7a7f88" textLength="9.3" lengthAdjust="spacingAndGlyphs">MA</text>
<text x="128.6" y="579.6" font-size="6.7" fill="#7a7f88" textLength="13.1" lengthAdjust="spacingAndGlyphs">EMA</text>
<text x="155" y="579.6" font-size="6.7" fill="#7a7f88" textLength="16.4" lengthAdjust="spacingAndGlyphs">BOLL</text>
<text x="185.3" y="579.6" font-size="6.7" fill="#7a7f88" textLength="7.5" lengthAdjust="spacingAndGlyphs">TD</text>
<text x="206.3" y="579.77" font-size="6.62" fill="#7a7f88" textLength="26.5" lengthAdjust="spacingAndGlyphs">大额成交</text>
<text x="245.9" y="579.5" font-size="6.42" fill="#7a7f88" textLength="12.84" lengthAdjust="spacingAndGlyphs">KOL</text>
<text x="258.74" y="579.69" font-size="6.42" fill="#7a7f88" textLength="25.66" lengthAdjust="spacingAndGlyphs">关注指标</text>
<text x="298.3" y="579.69" font-size="6.42" fill="#7a7f88" textLength="25.69" lengthAdjust="spacingAndGlyphs">全量深度</text>
<text x="337.4" y="579.69" font-size="6.43" fill="#7a7f88" textLength="25.71" lengthAdjust="spacingAndGlyphs">止损参考</text>
<text x="376.5" y="579.74" font-size="6.55" fill="#7a7f88" textLength="13.1" lengthAdjust="spacingAndGlyphs">检验</text>
<text x="443.7" y="579.6" font-size="6.7" fill="#7a7f88" textLength="21.8" lengthAdjust="spacingAndGlyphs">Volume</text>
<text x="478.7" y="579.6" font-size="6.7" fill="#7a7f88" textLength="23.8" lengthAdjust="spacingAndGlyphs">Position</text>
<text x="547.7" y="579.6" font-size="6.7" fill="#7a7f88" textLength="9.2" lengthAdjust="spacingAndGlyphs">RSI</text>
<text x="570.4" y="579.6" font-size="6.7" fill="#7a7f88" textLength="11.9" lengthAdjust="spacingAndGlyphs">KDJ</text>
<text x="594.7" y="579.75" font-size="6.57" fill="#7a7f88" textLength="26.29" lengthAdjust="spacingAndGlyphs">爆仓统计</text>
<text x="634.3" y="579.6" font-size="6.7" fill="#7a7f88" textLength="16.5" lengthAdjust="spacingAndGlyphs">LSUR</text>
<text x="664" y="579.6" font-size="6.7" fill="#7a7f88" textLength="7.5" lengthAdjust="spacingAndGlyphs">FR</text>
<text x="685" y="579.6" font-size="6.7" fill="#7a7f88" textLength="27.5" lengthAdjust="spacingAndGlyphs">Fundflow</text>
<text x="726.5" y="579.6" font-size="6.7" fill="#7a7f88" textLength="17.8" lengthAdjust="spacingAndGlyphs">TTMU</text>
<text x="810.9" y="579.45" font-size="5.8" fill="#7a7f88" textLength="11.6" lengthAdjust="spacingAndGlyphs">对数</text>
<text x="827.4" y="579.6" font-size="6.7" fill="#7a7f88" textLength="4.6" lengthAdjust="spacingAndGlyphs">%</text>
<path d="M400.2 575.6l1.5 1.6l-1.5 1.6" fill="none" stroke="#7a7f88" stroke-width="0.62"/>
<path d="M754.4 575.6l1.5 1.6l-1.5 1.6" fill="none" stroke="#7a7f88" stroke-width="0.62"/>
<line x1="436.4" y1="570.3" x2="436.4" y2="583.6" stroke="#e6e8eb" stroke-width="0.6"/>
<rect x="511.9" y="572.2" width="26.1" height="10" fill="#ebebeb" rx="1.5"/>
<text x="515.4" y="579.6" font-size="6.7" fill="#2b2f36" textLength="19.2" lengthAdjust="spacingAndGlyphs">MACD</text>
<path d="M770.2 575.3h-1.8v3.8h3.8v-1.8M770.6 577l2-2M771.2 574.9h1.5v1.5" fill="none" stroke="#7a7f88" stroke-width="0.62"/>
<text x="777.2" y="579.71" font-size="6.47" fill="#2b2f36" font-weight="bold" textLength="25.89" lengthAdjust="spacingAndGlyphs">社区指标</text>
<rect x="835.2" y="571.1" width="16" height="11.7" fill="#ebebeb" rx="1.5"/>
<text x="837.6" y="579.41" font-size="5.7" fill="#2b2f36" textLength="11.4" lengthAdjust="spacingAndGlyphs">自动</text>
<rect x="224" y="584.4" width="21.4" height="1.6" fill="#dcdcdc" rx="0.8"/>
<rect x="851.8" y="0" width="1.2" height="586" fill="#f3f3f4"/>
</svg>
</body></html>
